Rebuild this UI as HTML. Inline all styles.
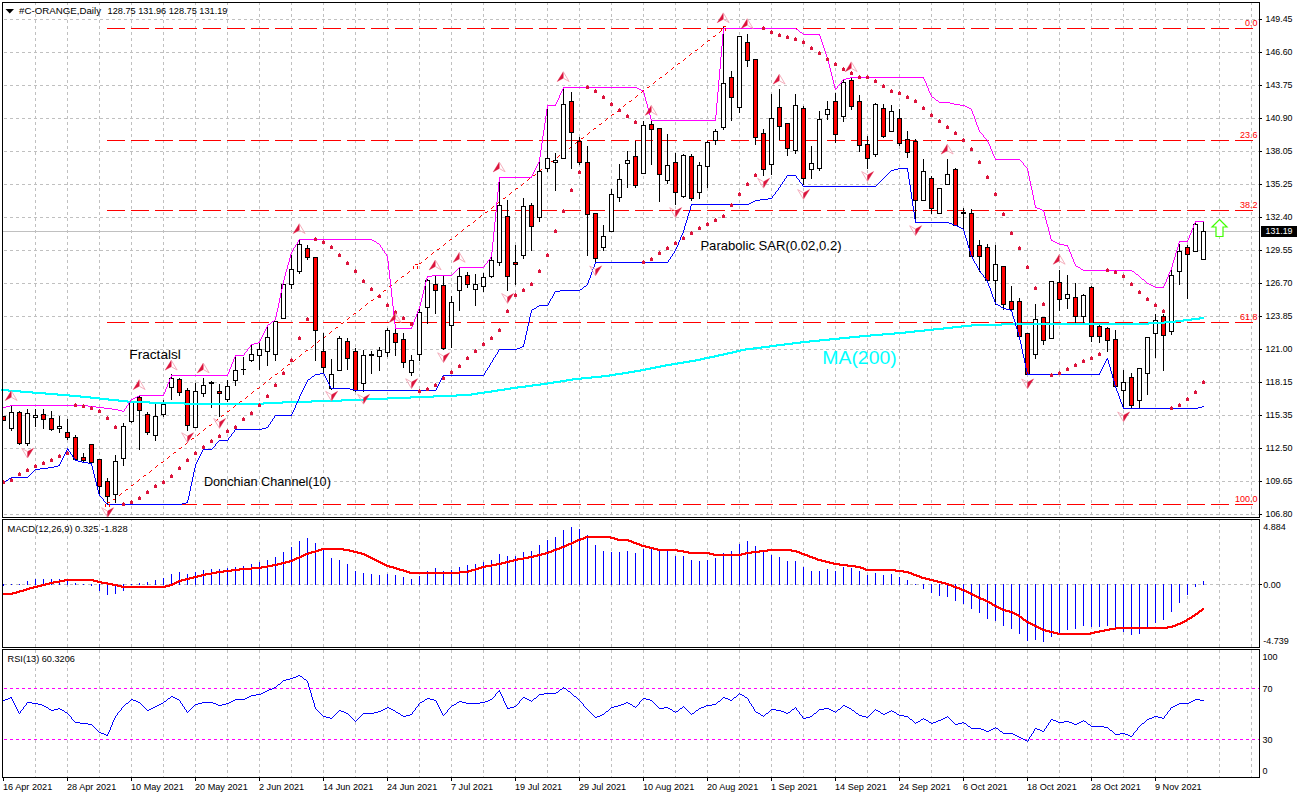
<!DOCTYPE html>
<html><head><meta charset="utf-8"><title>chart</title>
<style>
html,body{margin:0;padding:0;background:#fff;}
body{width:1300px;height:798px;overflow:hidden;}
svg{display:block;font-family:"Liberation Sans",sans-serif;}
</style></head><body>
<svg width="1300" height="798" viewBox="0 0 1300 798">
<g shape-rendering="crispEdges">
<line x1="35.5" y1="3" x2="35.5" y2="517" stroke="#c0c0c0" stroke-width="1" stroke-dasharray="3 3" stroke-dashoffset="1"/>
<line x1="35.5" y1="520" x2="35.5" y2="647" stroke="#c0c0c0" stroke-width="1" stroke-dasharray="3 3" stroke-dashoffset="2"/>
<line x1="35.5" y1="650" x2="35.5" y2="777" stroke="#c0c0c0" stroke-width="1" stroke-dasharray="3 3" stroke-dashoffset="0"/>
<line x1="67.5" y1="3" x2="67.5" y2="517" stroke="#c0c0c0" stroke-width="1" stroke-dasharray="3 3" stroke-dashoffset="1"/>
<line x1="67.5" y1="520" x2="67.5" y2="647" stroke="#c0c0c0" stroke-width="1" stroke-dasharray="3 3" stroke-dashoffset="2"/>
<line x1="67.5" y1="650" x2="67.5" y2="777" stroke="#c0c0c0" stroke-width="1" stroke-dasharray="3 3" stroke-dashoffset="0"/>
<line x1="99.5" y1="3" x2="99.5" y2="517" stroke="#c0c0c0" stroke-width="1" stroke-dasharray="3 3" stroke-dashoffset="1"/>
<line x1="99.5" y1="520" x2="99.5" y2="647" stroke="#c0c0c0" stroke-width="1" stroke-dasharray="3 3" stroke-dashoffset="2"/>
<line x1="99.5" y1="650" x2="99.5" y2="777" stroke="#c0c0c0" stroke-width="1" stroke-dasharray="3 3" stroke-dashoffset="0"/>
<line x1="131.5" y1="3" x2="131.5" y2="517" stroke="#c0c0c0" stroke-width="1" stroke-dasharray="3 3" stroke-dashoffset="1"/>
<line x1="131.5" y1="520" x2="131.5" y2="647" stroke="#c0c0c0" stroke-width="1" stroke-dasharray="3 3" stroke-dashoffset="2"/>
<line x1="131.5" y1="650" x2="131.5" y2="777" stroke="#c0c0c0" stroke-width="1" stroke-dasharray="3 3" stroke-dashoffset="0"/>
<line x1="163.5" y1="3" x2="163.5" y2="517" stroke="#c0c0c0" stroke-width="1" stroke-dasharray="3 3" stroke-dashoffset="1"/>
<line x1="163.5" y1="520" x2="163.5" y2="647" stroke="#c0c0c0" stroke-width="1" stroke-dasharray="3 3" stroke-dashoffset="2"/>
<line x1="163.5" y1="650" x2="163.5" y2="777" stroke="#c0c0c0" stroke-width="1" stroke-dasharray="3 3" stroke-dashoffset="0"/>
<line x1="195.5" y1="3" x2="195.5" y2="517" stroke="#c0c0c0" stroke-width="1" stroke-dasharray="3 3" stroke-dashoffset="1"/>
<line x1="195.5" y1="520" x2="195.5" y2="647" stroke="#c0c0c0" stroke-width="1" stroke-dasharray="3 3" stroke-dashoffset="2"/>
<line x1="195.5" y1="650" x2="195.5" y2="777" stroke="#c0c0c0" stroke-width="1" stroke-dasharray="3 3" stroke-dashoffset="0"/>
<line x1="227.5" y1="3" x2="227.5" y2="517" stroke="#c0c0c0" stroke-width="1" stroke-dasharray="3 3" stroke-dashoffset="1"/>
<line x1="227.5" y1="520" x2="227.5" y2="647" stroke="#c0c0c0" stroke-width="1" stroke-dasharray="3 3" stroke-dashoffset="2"/>
<line x1="227.5" y1="650" x2="227.5" y2="777" stroke="#c0c0c0" stroke-width="1" stroke-dasharray="3 3" stroke-dashoffset="0"/>
<line x1="259.5" y1="3" x2="259.5" y2="517" stroke="#c0c0c0" stroke-width="1" stroke-dasharray="3 3" stroke-dashoffset="1"/>
<line x1="259.5" y1="520" x2="259.5" y2="647" stroke="#c0c0c0" stroke-width="1" stroke-dasharray="3 3" stroke-dashoffset="2"/>
<line x1="259.5" y1="650" x2="259.5" y2="777" stroke="#c0c0c0" stroke-width="1" stroke-dasharray="3 3" stroke-dashoffset="0"/>
<line x1="291.5" y1="3" x2="291.5" y2="517" stroke="#c0c0c0" stroke-width="1" stroke-dasharray="3 3" stroke-dashoffset="1"/>
<line x1="291.5" y1="520" x2="291.5" y2="647" stroke="#c0c0c0" stroke-width="1" stroke-dasharray="3 3" stroke-dashoffset="2"/>
<line x1="291.5" y1="650" x2="291.5" y2="777" stroke="#c0c0c0" stroke-width="1" stroke-dasharray="3 3" stroke-dashoffset="0"/>
<line x1="323.5" y1="3" x2="323.5" y2="517" stroke="#c0c0c0" stroke-width="1" stroke-dasharray="3 3" stroke-dashoffset="1"/>
<line x1="323.5" y1="520" x2="323.5" y2="647" stroke="#c0c0c0" stroke-width="1" stroke-dasharray="3 3" stroke-dashoffset="2"/>
<line x1="323.5" y1="650" x2="323.5" y2="777" stroke="#c0c0c0" stroke-width="1" stroke-dasharray="3 3" stroke-dashoffset="0"/>
<line x1="355.5" y1="3" x2="355.5" y2="517" stroke="#c0c0c0" stroke-width="1" stroke-dasharray="3 3" stroke-dashoffset="1"/>
<line x1="355.5" y1="520" x2="355.5" y2="647" stroke="#c0c0c0" stroke-width="1" stroke-dasharray="3 3" stroke-dashoffset="2"/>
<line x1="355.5" y1="650" x2="355.5" y2="777" stroke="#c0c0c0" stroke-width="1" stroke-dasharray="3 3" stroke-dashoffset="0"/>
<line x1="387.5" y1="3" x2="387.5" y2="517" stroke="#c0c0c0" stroke-width="1" stroke-dasharray="3 3" stroke-dashoffset="1"/>
<line x1="387.5" y1="520" x2="387.5" y2="647" stroke="#c0c0c0" stroke-width="1" stroke-dasharray="3 3" stroke-dashoffset="2"/>
<line x1="387.5" y1="650" x2="387.5" y2="777" stroke="#c0c0c0" stroke-width="1" stroke-dasharray="3 3" stroke-dashoffset="0"/>
<line x1="419.5" y1="3" x2="419.5" y2="517" stroke="#c0c0c0" stroke-width="1" stroke-dasharray="3 3" stroke-dashoffset="1"/>
<line x1="419.5" y1="520" x2="419.5" y2="647" stroke="#c0c0c0" stroke-width="1" stroke-dasharray="3 3" stroke-dashoffset="2"/>
<line x1="419.5" y1="650" x2="419.5" y2="777" stroke="#c0c0c0" stroke-width="1" stroke-dasharray="3 3" stroke-dashoffset="0"/>
<line x1="451.5" y1="3" x2="451.5" y2="517" stroke="#c0c0c0" stroke-width="1" stroke-dasharray="3 3" stroke-dashoffset="1"/>
<line x1="451.5" y1="520" x2="451.5" y2="647" stroke="#c0c0c0" stroke-width="1" stroke-dasharray="3 3" stroke-dashoffset="2"/>
<line x1="451.5" y1="650" x2="451.5" y2="777" stroke="#c0c0c0" stroke-width="1" stroke-dasharray="3 3" stroke-dashoffset="0"/>
<line x1="483.5" y1="3" x2="483.5" y2="517" stroke="#c0c0c0" stroke-width="1" stroke-dasharray="3 3" stroke-dashoffset="1"/>
<line x1="483.5" y1="520" x2="483.5" y2="647" stroke="#c0c0c0" stroke-width="1" stroke-dasharray="3 3" stroke-dashoffset="2"/>
<line x1="483.5" y1="650" x2="483.5" y2="777" stroke="#c0c0c0" stroke-width="1" stroke-dasharray="3 3" stroke-dashoffset="0"/>
<line x1="515.5" y1="3" x2="515.5" y2="517" stroke="#c0c0c0" stroke-width="1" stroke-dasharray="3 3" stroke-dashoffset="1"/>
<line x1="515.5" y1="520" x2="515.5" y2="647" stroke="#c0c0c0" stroke-width="1" stroke-dasharray="3 3" stroke-dashoffset="2"/>
<line x1="515.5" y1="650" x2="515.5" y2="777" stroke="#c0c0c0" stroke-width="1" stroke-dasharray="3 3" stroke-dashoffset="0"/>
<line x1="547.5" y1="3" x2="547.5" y2="517" stroke="#c0c0c0" stroke-width="1" stroke-dasharray="3 3" stroke-dashoffset="1"/>
<line x1="547.5" y1="520" x2="547.5" y2="647" stroke="#c0c0c0" stroke-width="1" stroke-dasharray="3 3" stroke-dashoffset="2"/>
<line x1="547.5" y1="650" x2="547.5" y2="777" stroke="#c0c0c0" stroke-width="1" stroke-dasharray="3 3" stroke-dashoffset="0"/>
<line x1="579.5" y1="3" x2="579.5" y2="517" stroke="#c0c0c0" stroke-width="1" stroke-dasharray="3 3" stroke-dashoffset="1"/>
<line x1="579.5" y1="520" x2="579.5" y2="647" stroke="#c0c0c0" stroke-width="1" stroke-dasharray="3 3" stroke-dashoffset="2"/>
<line x1="579.5" y1="650" x2="579.5" y2="777" stroke="#c0c0c0" stroke-width="1" stroke-dasharray="3 3" stroke-dashoffset="0"/>
<line x1="611.5" y1="3" x2="611.5" y2="517" stroke="#c0c0c0" stroke-width="1" stroke-dasharray="3 3" stroke-dashoffset="1"/>
<line x1="611.5" y1="520" x2="611.5" y2="647" stroke="#c0c0c0" stroke-width="1" stroke-dasharray="3 3" stroke-dashoffset="2"/>
<line x1="611.5" y1="650" x2="611.5" y2="777" stroke="#c0c0c0" stroke-width="1" stroke-dasharray="3 3" stroke-dashoffset="0"/>
<line x1="643.5" y1="3" x2="643.5" y2="517" stroke="#c0c0c0" stroke-width="1" stroke-dasharray="3 3" stroke-dashoffset="1"/>
<line x1="643.5" y1="520" x2="643.5" y2="647" stroke="#c0c0c0" stroke-width="1" stroke-dasharray="3 3" stroke-dashoffset="2"/>
<line x1="643.5" y1="650" x2="643.5" y2="777" stroke="#c0c0c0" stroke-width="1" stroke-dasharray="3 3" stroke-dashoffset="0"/>
<line x1="675.5" y1="3" x2="675.5" y2="517" stroke="#c0c0c0" stroke-width="1" stroke-dasharray="3 3" stroke-dashoffset="1"/>
<line x1="675.5" y1="520" x2="675.5" y2="647" stroke="#c0c0c0" stroke-width="1" stroke-dasharray="3 3" stroke-dashoffset="2"/>
<line x1="675.5" y1="650" x2="675.5" y2="777" stroke="#c0c0c0" stroke-width="1" stroke-dasharray="3 3" stroke-dashoffset="0"/>
<line x1="707.5" y1="3" x2="707.5" y2="517" stroke="#c0c0c0" stroke-width="1" stroke-dasharray="3 3" stroke-dashoffset="1"/>
<line x1="707.5" y1="520" x2="707.5" y2="647" stroke="#c0c0c0" stroke-width="1" stroke-dasharray="3 3" stroke-dashoffset="2"/>
<line x1="707.5" y1="650" x2="707.5" y2="777" stroke="#c0c0c0" stroke-width="1" stroke-dasharray="3 3" stroke-dashoffset="0"/>
<line x1="739.5" y1="3" x2="739.5" y2="517" stroke="#c0c0c0" stroke-width="1" stroke-dasharray="3 3" stroke-dashoffset="1"/>
<line x1="739.5" y1="520" x2="739.5" y2="647" stroke="#c0c0c0" stroke-width="1" stroke-dasharray="3 3" stroke-dashoffset="2"/>
<line x1="739.5" y1="650" x2="739.5" y2="777" stroke="#c0c0c0" stroke-width="1" stroke-dasharray="3 3" stroke-dashoffset="0"/>
<line x1="771.5" y1="3" x2="771.5" y2="517" stroke="#c0c0c0" stroke-width="1" stroke-dasharray="3 3" stroke-dashoffset="1"/>
<line x1="771.5" y1="520" x2="771.5" y2="647" stroke="#c0c0c0" stroke-width="1" stroke-dasharray="3 3" stroke-dashoffset="2"/>
<line x1="771.5" y1="650" x2="771.5" y2="777" stroke="#c0c0c0" stroke-width="1" stroke-dasharray="3 3" stroke-dashoffset="0"/>
<line x1="803.5" y1="3" x2="803.5" y2="517" stroke="#c0c0c0" stroke-width="1" stroke-dasharray="3 3" stroke-dashoffset="1"/>
<line x1="803.5" y1="520" x2="803.5" y2="647" stroke="#c0c0c0" stroke-width="1" stroke-dasharray="3 3" stroke-dashoffset="2"/>
<line x1="803.5" y1="650" x2="803.5" y2="777" stroke="#c0c0c0" stroke-width="1" stroke-dasharray="3 3" stroke-dashoffset="0"/>
<line x1="835.5" y1="3" x2="835.5" y2="517" stroke="#c0c0c0" stroke-width="1" stroke-dasharray="3 3" stroke-dashoffset="1"/>
<line x1="835.5" y1="520" x2="835.5" y2="647" stroke="#c0c0c0" stroke-width="1" stroke-dasharray="3 3" stroke-dashoffset="2"/>
<line x1="835.5" y1="650" x2="835.5" y2="777" stroke="#c0c0c0" stroke-width="1" stroke-dasharray="3 3" stroke-dashoffset="0"/>
<line x1="867.5" y1="3" x2="867.5" y2="517" stroke="#c0c0c0" stroke-width="1" stroke-dasharray="3 3" stroke-dashoffset="1"/>
<line x1="867.5" y1="520" x2="867.5" y2="647" stroke="#c0c0c0" stroke-width="1" stroke-dasharray="3 3" stroke-dashoffset="2"/>
<line x1="867.5" y1="650" x2="867.5" y2="777" stroke="#c0c0c0" stroke-width="1" stroke-dasharray="3 3" stroke-dashoffset="0"/>
<line x1="899.5" y1="3" x2="899.5" y2="517" stroke="#c0c0c0" stroke-width="1" stroke-dasharray="3 3" stroke-dashoffset="1"/>
<line x1="899.5" y1="520" x2="899.5" y2="647" stroke="#c0c0c0" stroke-width="1" stroke-dasharray="3 3" stroke-dashoffset="2"/>
<line x1="899.5" y1="650" x2="899.5" y2="777" stroke="#c0c0c0" stroke-width="1" stroke-dasharray="3 3" stroke-dashoffset="0"/>
<line x1="931.5" y1="3" x2="931.5" y2="517" stroke="#c0c0c0" stroke-width="1" stroke-dasharray="3 3" stroke-dashoffset="1"/>
<line x1="931.5" y1="520" x2="931.5" y2="647" stroke="#c0c0c0" stroke-width="1" stroke-dasharray="3 3" stroke-dashoffset="2"/>
<line x1="931.5" y1="650" x2="931.5" y2="777" stroke="#c0c0c0" stroke-width="1" stroke-dasharray="3 3" stroke-dashoffset="0"/>
<line x1="963.5" y1="3" x2="963.5" y2="517" stroke="#c0c0c0" stroke-width="1" stroke-dasharray="3 3" stroke-dashoffset="1"/>
<line x1="963.5" y1="520" x2="963.5" y2="647" stroke="#c0c0c0" stroke-width="1" stroke-dasharray="3 3" stroke-dashoffset="2"/>
<line x1="963.5" y1="650" x2="963.5" y2="777" stroke="#c0c0c0" stroke-width="1" stroke-dasharray="3 3" stroke-dashoffset="0"/>
<line x1="995.5" y1="3" x2="995.5" y2="517" stroke="#c0c0c0" stroke-width="1" stroke-dasharray="3 3" stroke-dashoffset="1"/>
<line x1="995.5" y1="520" x2="995.5" y2="647" stroke="#c0c0c0" stroke-width="1" stroke-dasharray="3 3" stroke-dashoffset="2"/>
<line x1="995.5" y1="650" x2="995.5" y2="777" stroke="#c0c0c0" stroke-width="1" stroke-dasharray="3 3" stroke-dashoffset="0"/>
<line x1="1027.5" y1="3" x2="1027.5" y2="517" stroke="#c0c0c0" stroke-width="1" stroke-dasharray="3 3" stroke-dashoffset="1"/>
<line x1="1027.5" y1="520" x2="1027.5" y2="647" stroke="#c0c0c0" stroke-width="1" stroke-dasharray="3 3" stroke-dashoffset="2"/>
<line x1="1027.5" y1="650" x2="1027.5" y2="777" stroke="#c0c0c0" stroke-width="1" stroke-dasharray="3 3" stroke-dashoffset="0"/>
<line x1="1059.5" y1="3" x2="1059.5" y2="517" stroke="#c0c0c0" stroke-width="1" stroke-dasharray="3 3" stroke-dashoffset="1"/>
<line x1="1059.5" y1="520" x2="1059.5" y2="647" stroke="#c0c0c0" stroke-width="1" stroke-dasharray="3 3" stroke-dashoffset="2"/>
<line x1="1059.5" y1="650" x2="1059.5" y2="777" stroke="#c0c0c0" stroke-width="1" stroke-dasharray="3 3" stroke-dashoffset="0"/>
<line x1="1091.5" y1="3" x2="1091.5" y2="517" stroke="#c0c0c0" stroke-width="1" stroke-dasharray="3 3" stroke-dashoffset="1"/>
<line x1="1091.5" y1="520" x2="1091.5" y2="647" stroke="#c0c0c0" stroke-width="1" stroke-dasharray="3 3" stroke-dashoffset="2"/>
<line x1="1091.5" y1="650" x2="1091.5" y2="777" stroke="#c0c0c0" stroke-width="1" stroke-dasharray="3 3" stroke-dashoffset="0"/>
<line x1="1123.5" y1="3" x2="1123.5" y2="517" stroke="#c0c0c0" stroke-width="1" stroke-dasharray="3 3" stroke-dashoffset="1"/>
<line x1="1123.5" y1="520" x2="1123.5" y2="647" stroke="#c0c0c0" stroke-width="1" stroke-dasharray="3 3" stroke-dashoffset="2"/>
<line x1="1123.5" y1="650" x2="1123.5" y2="777" stroke="#c0c0c0" stroke-width="1" stroke-dasharray="3 3" stroke-dashoffset="0"/>
<line x1="1155.5" y1="3" x2="1155.5" y2="517" stroke="#c0c0c0" stroke-width="1" stroke-dasharray="3 3" stroke-dashoffset="1"/>
<line x1="1155.5" y1="520" x2="1155.5" y2="647" stroke="#c0c0c0" stroke-width="1" stroke-dasharray="3 3" stroke-dashoffset="2"/>
<line x1="1155.5" y1="650" x2="1155.5" y2="777" stroke="#c0c0c0" stroke-width="1" stroke-dasharray="3 3" stroke-dashoffset="0"/>
<line x1="1187.5" y1="3" x2="1187.5" y2="517" stroke="#c0c0c0" stroke-width="1" stroke-dasharray="3 3" stroke-dashoffset="1"/>
<line x1="1187.5" y1="520" x2="1187.5" y2="647" stroke="#c0c0c0" stroke-width="1" stroke-dasharray="3 3" stroke-dashoffset="2"/>
<line x1="1187.5" y1="650" x2="1187.5" y2="777" stroke="#c0c0c0" stroke-width="1" stroke-dasharray="3 3" stroke-dashoffset="0"/>
<line x1="1219.5" y1="3" x2="1219.5" y2="517" stroke="#c0c0c0" stroke-width="1" stroke-dasharray="3 3" stroke-dashoffset="1"/>
<line x1="1219.5" y1="520" x2="1219.5" y2="647" stroke="#c0c0c0" stroke-width="1" stroke-dasharray="3 3" stroke-dashoffset="2"/>
<line x1="1219.5" y1="650" x2="1219.5" y2="777" stroke="#c0c0c0" stroke-width="1" stroke-dasharray="3 3" stroke-dashoffset="0"/>
<line x1="1251.5" y1="3" x2="1251.5" y2="517" stroke="#c0c0c0" stroke-width="1" stroke-dasharray="3 3" stroke-dashoffset="1"/>
<line x1="1251.5" y1="520" x2="1251.5" y2="647" stroke="#c0c0c0" stroke-width="1" stroke-dasharray="3 3" stroke-dashoffset="2"/>
<line x1="1251.5" y1="650" x2="1251.5" y2="777" stroke="#c0c0c0" stroke-width="1" stroke-dasharray="3 3" stroke-dashoffset="0"/>
<line x1="3" y1="19.5" x2="1259" y2="19.5" stroke="#c0c0c0" stroke-width="1" stroke-dasharray="3 3" stroke-dashoffset="5"/>
<line x1="3" y1="52.5" x2="1259" y2="52.5" stroke="#c0c0c0" stroke-width="1" stroke-dasharray="3 3" stroke-dashoffset="5"/>
<line x1="3" y1="85.5" x2="1259" y2="85.5" stroke="#c0c0c0" stroke-width="1" stroke-dasharray="3 3" stroke-dashoffset="5"/>
<line x1="3" y1="118.5" x2="1259" y2="118.5" stroke="#c0c0c0" stroke-width="1" stroke-dasharray="3 3" stroke-dashoffset="5"/>
<line x1="3" y1="151.5" x2="1259" y2="151.5" stroke="#c0c0c0" stroke-width="1" stroke-dasharray="3 3" stroke-dashoffset="5"/>
<line x1="3" y1="184.5" x2="1259" y2="184.5" stroke="#c0c0c0" stroke-width="1" stroke-dasharray="3 3" stroke-dashoffset="5"/>
<line x1="3" y1="217.5" x2="1259" y2="217.5" stroke="#c0c0c0" stroke-width="1" stroke-dasharray="3 3" stroke-dashoffset="5"/>
<line x1="3" y1="250.5" x2="1259" y2="250.5" stroke="#c0c0c0" stroke-width="1" stroke-dasharray="3 3" stroke-dashoffset="5"/>
<line x1="3" y1="283.5" x2="1259" y2="283.5" stroke="#c0c0c0" stroke-width="1" stroke-dasharray="3 3" stroke-dashoffset="5"/>
<line x1="3" y1="316.5" x2="1259" y2="316.5" stroke="#c0c0c0" stroke-width="1" stroke-dasharray="3 3" stroke-dashoffset="5"/>
<line x1="3" y1="349.5" x2="1259" y2="349.5" stroke="#c0c0c0" stroke-width="1" stroke-dasharray="3 3" stroke-dashoffset="5"/>
<line x1="3" y1="382.5" x2="1259" y2="382.5" stroke="#c0c0c0" stroke-width="1" stroke-dasharray="3 3" stroke-dashoffset="5"/>
<line x1="3" y1="415.5" x2="1259" y2="415.5" stroke="#c0c0c0" stroke-width="1" stroke-dasharray="3 3" stroke-dashoffset="5"/>
<line x1="3" y1="448.5" x2="1259" y2="448.5" stroke="#c0c0c0" stroke-width="1" stroke-dasharray="3 3" stroke-dashoffset="5"/>
<line x1="3" y1="481.5" x2="1259" y2="481.5" stroke="#c0c0c0" stroke-width="1" stroke-dasharray="3 3" stroke-dashoffset="5"/>
<line x1="3" y1="514.5" x2="1259" y2="514.5" stroke="#c0c0c0" stroke-width="1" stroke-dasharray="3 3" stroke-dashoffset="5"/>
<line x1="3" y1="584.5" x2="1259" y2="584.5" stroke="#c0c0c0" stroke-width="1" stroke-dasharray="3 3" stroke-dashoffset="5"/>
<rect x="3" y="231" width="1256" height="1" fill="#c0c0c0"/>
<line x1="107" y1="28.5" x2="1258" y2="28.5" stroke="#ff0000" stroke-width="1" stroke-dasharray="18 6"/>
<line x1="107" y1="140.5" x2="1258" y2="140.5" stroke="#ff0000" stroke-width="1" stroke-dasharray="18 6"/>
<line x1="107" y1="210.5" x2="1258" y2="210.5" stroke="#ff0000" stroke-width="1" stroke-dasharray="18 6"/>
<line x1="107" y1="322.5" x2="1258" y2="322.5" stroke="#ff0000" stroke-width="1" stroke-dasharray="18 6"/>
<line x1="107" y1="504.5" x2="1258" y2="504.5" stroke="#ff0000" stroke-width="1" stroke-dasharray="18 6"/>
</g>
<path d="M113,499h1v1h-1zM114,499h1v1h-1zM115,498h1v1h-1zM119,495h1v1h-1zM120,494h1v1h-1zM121,493h1v1h-1zM125,490h1v1h-1zM126,489h1v1h-1zM127,489h1v1h-1zM131,485h1v1h-1zM132,485h1v1h-1zM133,484h1v1h-1zM137,481h1v1h-1zM138,480h1v1h-1zM139,479h1v1h-1zM143,476h1v1h-1zM144,475h1v1h-1zM145,475h1v1h-1zM149,472h1v1h-1zM150,471h1v1h-1zM151,470h1v1h-1zM155,467h1v1h-1zM156,466h1v1h-1zM157,465h1v1h-1zM161,462h1v1h-1zM162,462h1v1h-1zM163,461h1v1h-1zM167,458h1v1h-1zM168,457h1v1h-1zM169,456h1v1h-1zM173,453h1v1h-1zM174,452h1v1h-1zM175,452h1v1h-1zM179,448h1v1h-1zM180,448h1v1h-1zM181,447h1v1h-1zM185,444h1v1h-1zM186,443h1v1h-1zM187,442h1v1h-1zM191,439h1v1h-1zM192,438h1v1h-1zM193,438h1v1h-1zM197,435h1v1h-1zM198,434h1v1h-1zM199,433h1v1h-1zM203,430h1v1h-1zM204,429h1v1h-1zM205,428h1v1h-1zM209,425h1v1h-1zM210,425h1v1h-1zM211,424h1v1h-1zM215,421h1v1h-1zM216,420h1v1h-1zM217,419h1v1h-1zM221,416h1v1h-1zM222,415h1v1h-1zM223,415h1v1h-1zM227,411h1v1h-1zM228,411h1v1h-1zM229,410h1v1h-1zM233,407h1v1h-1zM234,406h1v1h-1zM235,405h1v1h-1zM239,402h1v1h-1zM240,401h1v1h-1zM241,401h1v1h-1zM245,398h1v1h-1zM246,397h1v1h-1zM247,396h1v1h-1zM251,393h1v1h-1zM252,392h1v1h-1zM253,391h1v1h-1zM257,388h1v1h-1zM258,388h1v1h-1zM259,387h1v1h-1zM263,384h1v1h-1zM264,383h1v1h-1zM265,382h1v1h-1zM269,379h1v1h-1zM270,378h1v1h-1zM271,377h1v1h-1zM275,374h1v1h-1zM276,374h1v1h-1zM277,373h1v1h-1zM281,370h1v1h-1zM282,369h1v1h-1zM283,368h1v1h-1zM287,365h1v1h-1zM288,364h1v1h-1zM289,364h1v1h-1zM293,361h1v1h-1zM294,360h1v1h-1zM295,359h1v1h-1zM299,356h1v1h-1zM300,355h1v1h-1zM301,354h1v1h-1zM305,351h1v1h-1zM306,350h1v1h-1zM307,350h1v1h-1zM311,347h1v1h-1zM312,346h1v1h-1zM313,345h1v1h-1zM317,342h1v1h-1zM318,341h1v1h-1zM319,340h1v1h-1zM323,337h1v1h-1zM324,337h1v1h-1zM325,336h1v1h-1zM329,333h1v1h-1zM330,332h1v1h-1zM331,331h1v1h-1zM335,328h1v1h-1zM336,327h1v1h-1zM337,327h1v1h-1zM341,323h1v1h-1zM342,323h1v1h-1zM343,322h1v1h-1zM347,319h1v1h-1zM348,318h1v1h-1zM349,317h1v1h-1zM353,314h1v1h-1zM354,313h1v1h-1zM355,313h1v1h-1zM359,310h1v1h-1zM360,309h1v1h-1zM361,308h1v1h-1zM365,305h1v1h-1zM366,304h1v1h-1zM367,303h1v1h-1zM371,300h1v1h-1zM372,300h1v1h-1zM373,299h1v1h-1zM377,296h1v1h-1zM378,295h1v1h-1zM379,294h1v1h-1zM383,291h1v1h-1zM384,290h1v1h-1zM385,290h1v1h-1zM389,286h1v1h-1zM390,286h1v1h-1zM391,285h1v1h-1zM395,282h1v1h-1zM396,281h1v1h-1zM397,280h1v1h-1zM401,277h1v1h-1zM402,276h1v1h-1zM403,276h1v1h-1zM407,273h1v1h-1zM408,272h1v1h-1zM409,271h1v1h-1zM419,263h1v1h-1zM420,263h1v1h-1zM421,262h1v1h-1zM425,259h1v1h-1zM426,258h1v1h-1zM427,257h1v1h-1zM431,254h1v1h-1zM432,253h1v1h-1zM433,252h1v1h-1zM437,249h1v1h-1zM438,249h1v1h-1zM439,248h1v1h-1zM443,245h1v1h-1zM444,244h1v1h-1zM445,243h1v1h-1zM449,240h1v1h-1zM450,239h1v1h-1zM451,239h1v1h-1zM455,236h1v1h-1zM456,235h1v1h-1zM457,234h1v1h-1zM461,231h1v1h-1zM462,230h1v1h-1zM463,229h1v1h-1zM467,226h1v1h-1zM468,225h1v1h-1zM469,225h1v1h-1zM473,222h1v1h-1zM474,221h1v1h-1zM475,220h1v1h-1zM479,217h1v1h-1zM480,216h1v1h-1zM481,215h1v1h-1zM485,212h1v1h-1zM486,212h1v1h-1zM487,211h1v1h-1zM491,208h1v1h-1zM492,207h1v1h-1zM493,206h1v1h-1zM497,203h1v1h-1zM498,202h1v1h-1zM499,202h1v1h-1zM503,198h1v1h-1zM504,198h1v1h-1zM505,197h1v1h-1zM509,194h1v1h-1zM510,193h1v1h-1zM511,192h1v1h-1zM515,189h1v1h-1zM516,188h1v1h-1zM517,188h1v1h-1zM521,185h1v1h-1zM522,184h1v1h-1zM523,183h1v1h-1zM527,180h1v1h-1zM528,179h1v1h-1zM529,178h1v1h-1zM533,175h1v1h-1zM534,175h1v1h-1zM535,174h1v1h-1zM539,171h1v1h-1zM540,170h1v1h-1zM541,169h1v1h-1zM545,166h1v1h-1zM546,165h1v1h-1zM547,165h1v1h-1zM551,161h1v1h-1zM552,161h1v1h-1zM553,160h1v1h-1zM557,157h1v1h-1zM558,156h1v1h-1zM559,155h1v1h-1zM563,152h1v1h-1zM564,151h1v1h-1zM565,151h1v1h-1zM569,148h1v1h-1zM570,147h1v1h-1zM571,146h1v1h-1zM575,143h1v1h-1zM576,142h1v1h-1zM577,141h1v1h-1zM581,138h1v1h-1zM582,138h1v1h-1zM583,137h1v1h-1zM587,134h1v1h-1zM588,133h1v1h-1zM589,132h1v1h-1zM593,129h1v1h-1zM594,128h1v1h-1zM595,128h1v1h-1zM599,124h1v1h-1zM600,124h1v1h-1zM601,123h1v1h-1zM605,120h1v1h-1zM606,119h1v1h-1zM607,118h1v1h-1zM611,115h1v1h-1zM612,114h1v1h-1zM613,114h1v1h-1zM617,111h1v1h-1zM618,110h1v1h-1zM619,109h1v1h-1zM623,106h1v1h-1zM624,105h1v1h-1zM625,104h1v1h-1zM629,101h1v1h-1zM630,101h1v1h-1zM631,100h1v1h-1zM635,97h1v1h-1zM636,96h1v1h-1zM637,95h1v1h-1zM641,92h1v1h-1zM642,91h1v1h-1zM643,90h1v1h-1zM647,87h1v1h-1zM648,87h1v1h-1zM649,86h1v1h-1zM653,83h1v1h-1zM654,82h1v1h-1zM655,81h1v1h-1zM659,78h1v1h-1zM660,77h1v1h-1zM661,77h1v1h-1zM665,74h1v1h-1zM666,73h1v1h-1zM667,72h1v1h-1zM671,69h1v1h-1zM672,68h1v1h-1zM673,67h1v1h-1zM677,64h1v1h-1zM678,63h1v1h-1zM679,63h1v1h-1zM683,60h1v1h-1zM684,59h1v1h-1zM685,58h1v1h-1zM689,55h1v1h-1zM690,54h1v1h-1zM691,53h1v1h-1zM695,50h1v1h-1zM696,50h1v1h-1zM697,49h1v1h-1zM701,46h1v1h-1zM702,45h1v1h-1zM703,44h1v1h-1zM707,41h1v1h-1zM708,40h1v1h-1zM709,40h1v1h-1zM713,36h1v1h-1zM714,36h1v1h-1zM715,35h1v1h-1zM719,32h1v1h-1zM720,31h1v1h-1z" fill="#ff0000" shape-rendering="crispEdges"/>
<g shape-rendering="crispEdges">
<rect x="3" y="416" width="3" height="5" fill="#000"/>
<rect x="3" y="417" width="2" height="3" fill="#ff0000"/>
<rect x="11" y="406" width="1" height="25" fill="#000"/>
<rect x="9" y="412" width="5" height="17" fill="#000"/>
<rect x="10" y="413" width="3" height="15" fill="#fff"/>
<rect x="19" y="411" width="1" height="34" fill="#000"/>
<rect x="17" y="412" width="5" height="32" fill="#000"/>
<rect x="18" y="413" width="3" height="30" fill="#ff0000"/>
<rect x="27" y="409" width="1" height="37" fill="#000"/>
<rect x="25" y="413" width="5" height="31" fill="#000"/>
<rect x="26" y="414" width="3" height="29" fill="#fff"/>
<rect x="35" y="409" width="1" height="18" fill="#000"/>
<rect x="33" y="415" width="5" height="3" fill="#000"/>
<rect x="34" y="416" width="3" height="1" fill="#fff"/>
<rect x="43" y="409" width="1" height="20" fill="#000"/>
<rect x="41" y="414" width="5" height="6" fill="#000"/>
<rect x="42" y="415" width="3" height="4" fill="#ff0000"/>
<rect x="51" y="411" width="1" height="20" fill="#000"/>
<rect x="49" y="418" width="5" height="12" fill="#000"/>
<rect x="50" y="419" width="3" height="10" fill="#ff0000"/>
<rect x="59" y="416" width="1" height="17" fill="#000"/>
<rect x="57" y="426" width="5" height="3" fill="#000"/>
<rect x="58" y="427" width="3" height="1" fill="#fff"/>
<rect x="67" y="419" width="1" height="21" fill="#000"/>
<rect x="65" y="432" width="5" height="6" fill="#000"/>
<rect x="66" y="433" width="3" height="4" fill="#ff0000"/>
<rect x="75" y="435" width="1" height="25" fill="#000"/>
<rect x="73" y="437" width="5" height="23" fill="#000"/>
<rect x="74" y="438" width="3" height="21" fill="#ff0000"/>
<rect x="83" y="453" width="1" height="10" fill="#000"/>
<rect x="81" y="457" width="5" height="4" fill="#000"/>
<rect x="82" y="458" width="3" height="2" fill="#ff0000"/>
<rect x="91" y="444" width="1" height="19" fill="#000"/>
<rect x="89" y="444" width="5" height="19" fill="#000"/>
<rect x="90" y="445" width="3" height="17" fill="#ff0000"/>
<rect x="99" y="459" width="1" height="37" fill="#000"/>
<rect x="97" y="459" width="5" height="28" fill="#000"/>
<rect x="98" y="460" width="3" height="26" fill="#ff0000"/>
<rect x="107" y="478" width="1" height="27" fill="#000"/>
<rect x="105" y="481" width="5" height="16" fill="#000"/>
<rect x="106" y="482" width="3" height="14" fill="#ff0000"/>
<rect x="115" y="455" width="1" height="48" fill="#000"/>
<rect x="113" y="461" width="5" height="34" fill="#000"/>
<rect x="114" y="462" width="3" height="32" fill="#fff"/>
<rect x="123" y="423" width="1" height="43" fill="#000"/>
<rect x="121" y="426" width="5" height="33" fill="#000"/>
<rect x="122" y="427" width="3" height="31" fill="#fff"/>
<rect x="131" y="402" width="1" height="21" fill="#000"/>
<rect x="129" y="402" width="5" height="20" fill="#000"/>
<rect x="130" y="403" width="3" height="18" fill="#fff"/>
<rect x="139" y="396" width="1" height="54" fill="#000"/>
<rect x="137" y="397" width="5" height="14" fill="#000"/>
<rect x="138" y="398" width="3" height="12" fill="#ff0000"/>
<rect x="147" y="412" width="1" height="23" fill="#000"/>
<rect x="145" y="414" width="5" height="19" fill="#000"/>
<rect x="146" y="415" width="3" height="17" fill="#ff0000"/>
<rect x="155" y="404" width="1" height="37" fill="#000"/>
<rect x="153" y="416" width="5" height="20" fill="#000"/>
<rect x="154" y="417" width="3" height="18" fill="#fff"/>
<rect x="163" y="400" width="1" height="17" fill="#000"/>
<rect x="161" y="404" width="5" height="11" fill="#000"/>
<rect x="162" y="405" width="3" height="9" fill="#fff"/>
<rect x="171" y="374" width="1" height="26" fill="#000"/>
<rect x="169" y="378" width="5" height="10" fill="#000"/>
<rect x="170" y="379" width="3" height="8" fill="#fff"/>
<rect x="179" y="378" width="1" height="18" fill="#000"/>
<rect x="177" y="379" width="5" height="14" fill="#000"/>
<rect x="178" y="380" width="3" height="12" fill="#ff0000"/>
<rect x="187" y="388" width="1" height="43" fill="#000"/>
<rect x="185" y="390" width="5" height="36" fill="#000"/>
<rect x="186" y="391" width="3" height="34" fill="#ff0000"/>
<rect x="195" y="383" width="1" height="45" fill="#000"/>
<rect x="193" y="391" width="5" height="37" fill="#000"/>
<rect x="194" y="392" width="3" height="35" fill="#fff"/>
<rect x="203" y="378" width="1" height="19" fill="#000"/>
<rect x="201" y="385" width="5" height="9" fill="#000"/>
<rect x="202" y="386" width="3" height="7" fill="#fff"/>
<rect x="211" y="381" width="1" height="27" fill="#000"/>
<rect x="209" y="382" width="5" height="2" fill="#000"/>
<rect x="219" y="384" width="1" height="33" fill="#000"/>
<rect x="217" y="391" width="5" height="3" fill="#000"/>
<rect x="218" y="392" width="3" height="1" fill="#ff0000"/>
<rect x="227" y="380" width="1" height="22" fill="#000"/>
<rect x="225" y="386" width="5" height="14" fill="#000"/>
<rect x="226" y="387" width="3" height="12" fill="#fff"/>
<rect x="235" y="356" width="1" height="30" fill="#000"/>
<rect x="233" y="370" width="5" height="11" fill="#000"/>
<rect x="234" y="371" width="3" height="9" fill="#fff"/>
<rect x="243" y="357" width="1" height="18" fill="#000"/>
<rect x="241" y="369" width="5" height="1" fill="#000"/>
<rect x="251" y="344" width="1" height="18" fill="#000"/>
<rect x="249" y="354" width="5" height="7" fill="#000"/>
<rect x="250" y="355" width="3" height="5" fill="#fff"/>
<rect x="259" y="342" width="1" height="28" fill="#000"/>
<rect x="257" y="349" width="5" height="7" fill="#000"/>
<rect x="258" y="350" width="3" height="5" fill="#fff"/>
<rect x="267" y="327" width="1" height="39" fill="#000"/>
<rect x="265" y="337" width="5" height="15" fill="#000"/>
<rect x="266" y="338" width="3" height="13" fill="#fff"/>
<rect x="275" y="321" width="1" height="40" fill="#000"/>
<rect x="273" y="321" width="5" height="34" fill="#000"/>
<rect x="274" y="322" width="3" height="32" fill="#fff"/>
<rect x="283" y="282" width="1" height="37" fill="#000"/>
<rect x="281" y="284" width="5" height="35" fill="#000"/>
<rect x="282" y="285" width="3" height="33" fill="#fff"/>
<rect x="291" y="255" width="1" height="34" fill="#000"/>
<rect x="289" y="269" width="5" height="16" fill="#000"/>
<rect x="290" y="270" width="3" height="14" fill="#fff"/>
<rect x="299" y="240" width="1" height="34" fill="#000"/>
<rect x="297" y="244" width="5" height="28" fill="#000"/>
<rect x="298" y="245" width="3" height="26" fill="#fff"/>
<rect x="307" y="245" width="1" height="15" fill="#000"/>
<rect x="305" y="248" width="5" height="10" fill="#000"/>
<rect x="306" y="249" width="3" height="8" fill="#ff0000"/>
<rect x="315" y="257" width="1" height="104" fill="#000"/>
<rect x="313" y="257" width="5" height="74" fill="#000"/>
<rect x="314" y="258" width="3" height="72" fill="#ff0000"/>
<rect x="323" y="333" width="1" height="40" fill="#000"/>
<rect x="321" y="351" width="5" height="17" fill="#000"/>
<rect x="322" y="352" width="3" height="15" fill="#ff0000"/>
<rect x="331" y="359" width="1" height="31" fill="#000"/>
<rect x="329" y="374" width="5" height="15" fill="#000"/>
<rect x="330" y="375" width="3" height="13" fill="#fff"/>
<rect x="339" y="336" width="1" height="35" fill="#000"/>
<rect x="337" y="338" width="5" height="33" fill="#000"/>
<rect x="338" y="339" width="3" height="31" fill="#fff"/>
<rect x="347" y="338" width="1" height="32" fill="#000"/>
<rect x="345" y="341" width="5" height="18" fill="#000"/>
<rect x="346" y="342" width="3" height="16" fill="#ff0000"/>
<rect x="355" y="348" width="1" height="44" fill="#000"/>
<rect x="353" y="351" width="5" height="40" fill="#000"/>
<rect x="354" y="352" width="3" height="38" fill="#ff0000"/>
<rect x="363" y="350" width="1" height="42" fill="#000"/>
<rect x="361" y="355" width="5" height="29" fill="#000"/>
<rect x="362" y="356" width="3" height="27" fill="#fff"/>
<rect x="371" y="351" width="1" height="23" fill="#000"/>
<rect x="369" y="354" width="5" height="2" fill="#000"/>
<rect x="379" y="347" width="1" height="24" fill="#000"/>
<rect x="377" y="350" width="5" height="7" fill="#000"/>
<rect x="378" y="351" width="3" height="5" fill="#fff"/>
<rect x="387" y="328" width="1" height="29" fill="#000"/>
<rect x="385" y="330" width="5" height="23" fill="#000"/>
<rect x="386" y="331" width="3" height="21" fill="#fff"/>
<rect x="395" y="328" width="1" height="28" fill="#000"/>
<rect x="393" y="333" width="5" height="10" fill="#000"/>
<rect x="394" y="334" width="3" height="8" fill="#ff0000"/>
<rect x="403" y="333" width="1" height="35" fill="#000"/>
<rect x="401" y="339" width="5" height="24" fill="#000"/>
<rect x="402" y="340" width="3" height="22" fill="#ff0000"/>
<rect x="411" y="355" width="1" height="21" fill="#000"/>
<rect x="409" y="360" width="5" height="13" fill="#000"/>
<rect x="410" y="361" width="3" height="11" fill="#fff"/>
<rect x="419" y="308" width="1" height="53" fill="#000"/>
<rect x="417" y="312" width="5" height="43" fill="#000"/>
<rect x="418" y="313" width="3" height="41" fill="#fff"/>
<rect x="427" y="279" width="1" height="45" fill="#000"/>
<rect x="425" y="280" width="5" height="28" fill="#000"/>
<rect x="426" y="281" width="3" height="26" fill="#fff"/>
<rect x="435" y="276" width="1" height="38" fill="#000"/>
<rect x="433" y="284" width="5" height="7" fill="#000"/>
<rect x="434" y="285" width="3" height="5" fill="#ff0000"/>
<rect x="443" y="276" width="1" height="74" fill="#000"/>
<rect x="441" y="285" width="5" height="64" fill="#000"/>
<rect x="442" y="286" width="3" height="62" fill="#ff0000"/>
<rect x="451" y="296" width="1" height="52" fill="#000"/>
<rect x="449" y="302" width="5" height="24" fill="#000"/>
<rect x="450" y="303" width="3" height="22" fill="#fff"/>
<rect x="459" y="268" width="1" height="43" fill="#000"/>
<rect x="457" y="276" width="5" height="15" fill="#000"/>
<rect x="458" y="277" width="3" height="13" fill="#fff"/>
<rect x="467" y="272" width="1" height="16" fill="#000"/>
<rect x="465" y="275" width="5" height="10" fill="#000"/>
<rect x="466" y="276" width="3" height="8" fill="#ff0000"/>
<rect x="475" y="274" width="1" height="32" fill="#000"/>
<rect x="473" y="284" width="5" height="6" fill="#000"/>
<rect x="474" y="285" width="3" height="4" fill="#fff"/>
<rect x="483" y="273" width="1" height="19" fill="#000"/>
<rect x="481" y="277" width="5" height="10" fill="#000"/>
<rect x="482" y="278" width="3" height="8" fill="#fff"/>
<rect x="491" y="257" width="1" height="21" fill="#000"/>
<rect x="489" y="260" width="5" height="17" fill="#000"/>
<rect x="490" y="261" width="3" height="15" fill="#fff"/>
<rect x="499" y="181" width="1" height="85" fill="#000"/>
<rect x="497" y="205" width="5" height="58" fill="#000"/>
<rect x="498" y="206" width="3" height="56" fill="#fff"/>
<rect x="507" y="200" width="1" height="91" fill="#000"/>
<rect x="505" y="216" width="5" height="61" fill="#000"/>
<rect x="506" y="217" width="3" height="59" fill="#ff0000"/>
<rect x="515" y="245" width="1" height="40" fill="#000"/>
<rect x="513" y="262" width="5" height="3" fill="#000"/>
<rect x="514" y="263" width="3" height="1" fill="#ff0000"/>
<rect x="523" y="198" width="1" height="61" fill="#000"/>
<rect x="521" y="206" width="5" height="50" fill="#000"/>
<rect x="522" y="207" width="3" height="48" fill="#fff"/>
<rect x="531" y="203" width="1" height="48" fill="#000"/>
<rect x="529" y="205" width="5" height="22" fill="#000"/>
<rect x="530" y="206" width="3" height="20" fill="#ff0000"/>
<rect x="539" y="160" width="1" height="62" fill="#000"/>
<rect x="537" y="171" width="5" height="47" fill="#000"/>
<rect x="538" y="172" width="3" height="45" fill="#fff"/>
<rect x="547" y="108" width="1" height="64" fill="#000"/>
<rect x="545" y="158" width="5" height="11" fill="#000"/>
<rect x="546" y="159" width="3" height="9" fill="#fff"/>
<rect x="555" y="153" width="1" height="38" fill="#000"/>
<rect x="553" y="160" width="5" height="3" fill="#000"/>
<rect x="554" y="161" width="3" height="1" fill="#fff"/>
<rect x="563" y="88" width="1" height="71" fill="#000"/>
<rect x="561" y="104" width="5" height="55" fill="#000"/>
<rect x="562" y="105" width="3" height="53" fill="#fff"/>
<rect x="571" y="92" width="1" height="77" fill="#000"/>
<rect x="569" y="101" width="5" height="32" fill="#000"/>
<rect x="570" y="102" width="3" height="30" fill="#ff0000"/>
<rect x="579" y="137" width="1" height="28" fill="#000"/>
<rect x="577" y="141" width="5" height="22" fill="#000"/>
<rect x="578" y="142" width="3" height="20" fill="#ff0000"/>
<rect x="587" y="146" width="1" height="110" fill="#000"/>
<rect x="585" y="162" width="5" height="53" fill="#000"/>
<rect x="586" y="163" width="3" height="51" fill="#ff0000"/>
<rect x="595" y="213" width="1" height="50" fill="#000"/>
<rect x="593" y="213" width="5" height="46" fill="#000"/>
<rect x="594" y="214" width="3" height="44" fill="#ff0000"/>
<rect x="603" y="225" width="1" height="26" fill="#000"/>
<rect x="601" y="236" width="5" height="12" fill="#000"/>
<rect x="602" y="237" width="3" height="10" fill="#fff"/>
<rect x="611" y="189" width="1" height="43" fill="#000"/>
<rect x="609" y="194" width="5" height="38" fill="#000"/>
<rect x="610" y="195" width="3" height="36" fill="#fff"/>
<rect x="619" y="164" width="1" height="38" fill="#000"/>
<rect x="617" y="179" width="5" height="19" fill="#000"/>
<rect x="618" y="180" width="3" height="17" fill="#fff"/>
<rect x="627" y="151" width="1" height="37" fill="#000"/>
<rect x="625" y="160" width="5" height="4" fill="#000"/>
<rect x="626" y="161" width="3" height="2" fill="#fff"/>
<rect x="635" y="141" width="1" height="47" fill="#000"/>
<rect x="633" y="156" width="5" height="30" fill="#000"/>
<rect x="634" y="157" width="3" height="28" fill="#ff0000"/>
<rect x="643" y="121" width="1" height="53" fill="#000"/>
<rect x="641" y="125" width="5" height="49" fill="#000"/>
<rect x="642" y="126" width="3" height="47" fill="#fff"/>
<rect x="651" y="121" width="1" height="44" fill="#000"/>
<rect x="649" y="124" width="5" height="6" fill="#000"/>
<rect x="650" y="125" width="3" height="4" fill="#ff0000"/>
<rect x="659" y="128" width="1" height="74" fill="#000"/>
<rect x="657" y="128" width="5" height="47" fill="#000"/>
<rect x="658" y="129" width="3" height="45" fill="#ff0000"/>
<rect x="667" y="134" width="1" height="50" fill="#000"/>
<rect x="665" y="165" width="5" height="16" fill="#000"/>
<rect x="666" y="166" width="3" height="14" fill="#fff"/>
<rect x="675" y="153" width="1" height="52" fill="#000"/>
<rect x="673" y="162" width="5" height="31" fill="#000"/>
<rect x="674" y="163" width="3" height="29" fill="#ff0000"/>
<rect x="683" y="154" width="1" height="44" fill="#000"/>
<rect x="681" y="155" width="5" height="42" fill="#000"/>
<rect x="682" y="156" width="3" height="40" fill="#fff"/>
<rect x="691" y="154" width="1" height="47" fill="#000"/>
<rect x="689" y="156" width="5" height="43" fill="#000"/>
<rect x="690" y="157" width="3" height="41" fill="#ff0000"/>
<rect x="699" y="162" width="1" height="37" fill="#000"/>
<rect x="697" y="165" width="5" height="28" fill="#000"/>
<rect x="698" y="166" width="3" height="26" fill="#fff"/>
<rect x="707" y="141" width="1" height="47" fill="#000"/>
<rect x="705" y="142" width="5" height="25" fill="#000"/>
<rect x="706" y="143" width="3" height="23" fill="#fff"/>
<rect x="715" y="129" width="1" height="16" fill="#000"/>
<rect x="713" y="131" width="5" height="10" fill="#000"/>
<rect x="714" y="132" width="3" height="8" fill="#fff"/>
<rect x="723" y="27" width="1" height="103" fill="#000"/>
<rect x="721" y="83" width="5" height="45" fill="#000"/>
<rect x="722" y="84" width="3" height="43" fill="#fff"/>
<rect x="731" y="71" width="1" height="50" fill="#000"/>
<rect x="729" y="77" width="5" height="21" fill="#000"/>
<rect x="730" y="78" width="3" height="19" fill="#ff0000"/>
<rect x="739" y="36" width="1" height="77" fill="#000"/>
<rect x="737" y="36" width="5" height="72" fill="#000"/>
<rect x="738" y="37" width="3" height="70" fill="#fff"/>
<rect x="747" y="34" width="1" height="33" fill="#000"/>
<rect x="745" y="42" width="5" height="19" fill="#000"/>
<rect x="746" y="43" width="3" height="17" fill="#ff0000"/>
<rect x="755" y="59" width="1" height="86" fill="#000"/>
<rect x="753" y="59" width="5" height="79" fill="#000"/>
<rect x="754" y="60" width="3" height="77" fill="#ff0000"/>
<rect x="763" y="129" width="1" height="47" fill="#000"/>
<rect x="761" y="133" width="5" height="37" fill="#000"/>
<rect x="762" y="134" width="3" height="35" fill="#ff0000"/>
<rect x="771" y="94" width="1" height="81" fill="#000"/>
<rect x="769" y="118" width="5" height="47" fill="#000"/>
<rect x="770" y="119" width="3" height="45" fill="#fff"/>
<rect x="779" y="89" width="1" height="51" fill="#000"/>
<rect x="777" y="107" width="5" height="20" fill="#000"/>
<rect x="778" y="108" width="3" height="18" fill="#ff0000"/>
<rect x="787" y="123" width="1" height="33" fill="#000"/>
<rect x="785" y="123" width="5" height="26" fill="#000"/>
<rect x="786" y="124" width="3" height="24" fill="#ff0000"/>
<rect x="795" y="94" width="1" height="60" fill="#000"/>
<rect x="793" y="105" width="5" height="46" fill="#000"/>
<rect x="794" y="106" width="3" height="44" fill="#fff"/>
<rect x="803" y="106" width="1" height="79" fill="#000"/>
<rect x="801" y="108" width="5" height="71" fill="#000"/>
<rect x="802" y="109" width="3" height="69" fill="#ff0000"/>
<rect x="811" y="146" width="1" height="33" fill="#000"/>
<rect x="809" y="163" width="5" height="7" fill="#000"/>
<rect x="810" y="164" width="3" height="5" fill="#fff"/>
<rect x="819" y="111" width="1" height="60" fill="#000"/>
<rect x="817" y="119" width="5" height="50" fill="#000"/>
<rect x="818" y="120" width="3" height="48" fill="#fff"/>
<rect x="827" y="101" width="1" height="19" fill="#000"/>
<rect x="825" y="109" width="5" height="6" fill="#000"/>
<rect x="826" y="110" width="3" height="4" fill="#fff"/>
<rect x="835" y="93" width="1" height="50" fill="#000"/>
<rect x="833" y="101" width="5" height="34" fill="#000"/>
<rect x="834" y="102" width="3" height="32" fill="#ff0000"/>
<rect x="843" y="80" width="1" height="42" fill="#000"/>
<rect x="841" y="82" width="5" height="35" fill="#000"/>
<rect x="842" y="83" width="3" height="33" fill="#fff"/>
<rect x="851" y="78" width="1" height="32" fill="#000"/>
<rect x="849" y="80" width="5" height="27" fill="#000"/>
<rect x="850" y="81" width="3" height="25" fill="#ff0000"/>
<rect x="859" y="95" width="1" height="57" fill="#000"/>
<rect x="857" y="101" width="5" height="45" fill="#000"/>
<rect x="858" y="102" width="3" height="43" fill="#ff0000"/>
<rect x="867" y="136" width="1" height="33" fill="#000"/>
<rect x="865" y="144" width="5" height="15" fill="#000"/>
<rect x="866" y="145" width="3" height="13" fill="#ff0000"/>
<rect x="875" y="103" width="1" height="54" fill="#000"/>
<rect x="873" y="104" width="5" height="51" fill="#000"/>
<rect x="874" y="105" width="3" height="49" fill="#fff"/>
<rect x="883" y="104" width="1" height="34" fill="#000"/>
<rect x="881" y="108" width="5" height="29" fill="#000"/>
<rect x="882" y="109" width="3" height="27" fill="#ff0000"/>
<rect x="891" y="105" width="1" height="27" fill="#000"/>
<rect x="889" y="111" width="5" height="21" fill="#000"/>
<rect x="890" y="112" width="3" height="19" fill="#fff"/>
<rect x="899" y="109" width="1" height="37" fill="#000"/>
<rect x="897" y="118" width="5" height="26" fill="#000"/>
<rect x="898" y="119" width="3" height="24" fill="#ff0000"/>
<rect x="907" y="131" width="1" height="27" fill="#000"/>
<rect x="905" y="139" width="5" height="14" fill="#000"/>
<rect x="906" y="140" width="3" height="12" fill="#ff0000"/>
<rect x="915" y="139" width="1" height="84" fill="#000"/>
<rect x="913" y="141" width="5" height="60" fill="#000"/>
<rect x="914" y="142" width="3" height="58" fill="#ff0000"/>
<rect x="923" y="159" width="1" height="42" fill="#000"/>
<rect x="921" y="171" width="5" height="30" fill="#000"/>
<rect x="922" y="172" width="3" height="28" fill="#fff"/>
<rect x="931" y="176" width="1" height="38" fill="#000"/>
<rect x="929" y="178" width="5" height="31" fill="#000"/>
<rect x="930" y="179" width="3" height="29" fill="#ff0000"/>
<rect x="939" y="188" width="1" height="26" fill="#000"/>
<rect x="937" y="188" width="5" height="26" fill="#000"/>
<rect x="938" y="189" width="3" height="24" fill="#fff"/>
<rect x="947" y="159" width="1" height="26" fill="#000"/>
<rect x="945" y="174" width="5" height="11" fill="#000"/>
<rect x="946" y="175" width="3" height="9" fill="#fff"/>
<rect x="955" y="168" width="1" height="58" fill="#000"/>
<rect x="953" y="169" width="5" height="57" fill="#000"/>
<rect x="954" y="170" width="3" height="55" fill="#ff0000"/>
<rect x="963" y="208" width="1" height="22" fill="#000"/>
<rect x="961" y="212" width="5" height="2" fill="#000"/>
<rect x="971" y="209" width="1" height="48" fill="#000"/>
<rect x="969" y="213" width="5" height="44" fill="#000"/>
<rect x="970" y="214" width="3" height="42" fill="#ff0000"/>
<rect x="979" y="240" width="1" height="32" fill="#000"/>
<rect x="977" y="245" width="5" height="12" fill="#000"/>
<rect x="978" y="246" width="3" height="10" fill="#ff0000"/>
<rect x="987" y="244" width="1" height="37" fill="#000"/>
<rect x="985" y="247" width="5" height="34" fill="#000"/>
<rect x="986" y="248" width="3" height="32" fill="#ff0000"/>
<rect x="995" y="245" width="1" height="60" fill="#000"/>
<rect x="993" y="264" width="5" height="17" fill="#000"/>
<rect x="994" y="265" width="3" height="15" fill="#fff"/>
<rect x="1003" y="266" width="1" height="44" fill="#000"/>
<rect x="1001" y="266" width="5" height="39" fill="#000"/>
<rect x="1002" y="267" width="3" height="37" fill="#ff0000"/>
<rect x="1011" y="286" width="1" height="25" fill="#000"/>
<rect x="1009" y="301" width="5" height="9" fill="#000"/>
<rect x="1010" y="302" width="3" height="7" fill="#ff0000"/>
<rect x="1019" y="298" width="1" height="41" fill="#000"/>
<rect x="1017" y="301" width="5" height="36" fill="#000"/>
<rect x="1018" y="302" width="3" height="34" fill="#ff0000"/>
<rect x="1027" y="333" width="1" height="42" fill="#000"/>
<rect x="1025" y="333" width="5" height="42" fill="#000"/>
<rect x="1026" y="334" width="3" height="40" fill="#ff0000"/>
<rect x="1035" y="304" width="1" height="55" fill="#000"/>
<rect x="1033" y="319" width="5" height="36" fill="#000"/>
<rect x="1034" y="320" width="3" height="34" fill="#fff"/>
<rect x="1043" y="317" width="1" height="28" fill="#000"/>
<rect x="1041" y="317" width="5" height="24" fill="#000"/>
<rect x="1042" y="318" width="3" height="22" fill="#ff0000"/>
<rect x="1051" y="281" width="1" height="58" fill="#000"/>
<rect x="1049" y="281" width="5" height="58" fill="#000"/>
<rect x="1050" y="282" width="3" height="56" fill="#fff"/>
<rect x="1059" y="270" width="1" height="41" fill="#000"/>
<rect x="1057" y="282" width="5" height="18" fill="#000"/>
<rect x="1058" y="283" width="3" height="16" fill="#ff0000"/>
<rect x="1067" y="275" width="1" height="34" fill="#000"/>
<rect x="1065" y="294" width="5" height="5" fill="#000"/>
<rect x="1066" y="295" width="3" height="3" fill="#fff"/>
<rect x="1075" y="283" width="1" height="40" fill="#000"/>
<rect x="1073" y="297" width="5" height="20" fill="#000"/>
<rect x="1074" y="298" width="3" height="18" fill="#ff0000"/>
<rect x="1083" y="294" width="1" height="29" fill="#000"/>
<rect x="1081" y="295" width="5" height="22" fill="#000"/>
<rect x="1082" y="296" width="3" height="20" fill="#fff"/>
<rect x="1091" y="286" width="1" height="56" fill="#000"/>
<rect x="1089" y="287" width="5" height="50" fill="#000"/>
<rect x="1090" y="288" width="3" height="48" fill="#ff0000"/>
<rect x="1099" y="325" width="1" height="18" fill="#000"/>
<rect x="1097" y="326" width="5" height="11" fill="#000"/>
<rect x="1098" y="327" width="3" height="9" fill="#ff0000"/>
<rect x="1107" y="327" width="1" height="25" fill="#000"/>
<rect x="1105" y="328" width="5" height="13" fill="#000"/>
<rect x="1106" y="329" width="3" height="11" fill="#ff0000"/>
<rect x="1115" y="330" width="1" height="57" fill="#000"/>
<rect x="1113" y="339" width="5" height="48" fill="#000"/>
<rect x="1114" y="340" width="3" height="46" fill="#ff0000"/>
<rect x="1123" y="370" width="1" height="39" fill="#000"/>
<rect x="1121" y="382" width="5" height="9" fill="#000"/>
<rect x="1122" y="383" width="3" height="7" fill="#fff"/>
<rect x="1131" y="373" width="1" height="35" fill="#000"/>
<rect x="1129" y="377" width="5" height="29" fill="#000"/>
<rect x="1130" y="378" width="3" height="27" fill="#ff0000"/>
<rect x="1139" y="368" width="1" height="40" fill="#000"/>
<rect x="1137" y="368" width="5" height="33" fill="#000"/>
<rect x="1138" y="369" width="3" height="31" fill="#fff"/>
<rect x="1147" y="337" width="1" height="58" fill="#000"/>
<rect x="1145" y="337" width="5" height="37" fill="#000"/>
<rect x="1146" y="338" width="3" height="35" fill="#fff"/>
<rect x="1155" y="314" width="1" height="44" fill="#000"/>
<rect x="1153" y="320" width="5" height="14" fill="#000"/>
<rect x="1154" y="321" width="3" height="12" fill="#fff"/>
<rect x="1163" y="314" width="1" height="57" fill="#000"/>
<rect x="1161" y="316" width="5" height="20" fill="#000"/>
<rect x="1162" y="317" width="3" height="18" fill="#ff0000"/>
<rect x="1171" y="268" width="1" height="67" fill="#000"/>
<rect x="1169" y="275" width="5" height="57" fill="#000"/>
<rect x="1170" y="276" width="3" height="55" fill="#fff"/>
<rect x="1179" y="244" width="1" height="41" fill="#000"/>
<rect x="1177" y="251" width="5" height="21" fill="#000"/>
<rect x="1178" y="252" width="3" height="19" fill="#fff"/>
<rect x="1187" y="245" width="1" height="54" fill="#000"/>
<rect x="1185" y="247" width="5" height="8" fill="#000"/>
<rect x="1186" y="248" width="3" height="6" fill="#ff0000"/>
<rect x="1195" y="222" width="1" height="30" fill="#000"/>
<rect x="1193" y="224" width="5" height="28" fill="#000"/>
<rect x="1194" y="225" width="3" height="26" fill="#fff"/>
<rect x="1203" y="222" width="1" height="38" fill="#000"/>
<rect x="1201" y="231" width="5" height="29" fill="#000"/>
<rect x="1202" y="232" width="3" height="27" fill="#fff"/>
</g>
<path d="M1199,317h5v1h-5zM1191,318h13v1h-13zM1183,319h17v1h-17zM1175,320h17v1h-17zM1164,321h20v1h-20zM1148,322h28v1h-28zM1001,323h164v1h-164zM971,324h178v1h-178zM961,325h41v1h-41zM952,326h20v1h-20zM943,327h19v1h-19zM933,328h20v1h-20zM924,329h20v1h-20zM914,330h20v1h-20zM905,331h20v1h-20zM894,332h21v1h-21zM882,333h24v1h-24zM870,334h25v1h-25zM859,335h24v1h-24zM849,336h22v1h-22zM839,337h21v1h-21zM829,338h21v1h-21zM819,339h21v1h-21zM809,340h21v1h-21zM800,341h20v1h-20zM792,342h18v1h-18zM784,343h17v1h-17zM776,344h17v1h-17zM769,345h16v1h-16zM761,346h16v1h-16zM753,347h17v1h-17zM745,348h17v1h-17zM740,349h14v1h-14zM736,350h10v1h-10zM732,351h9v1h-9zM727,352h10v1h-10zM723,353h10v1h-10zM718,354h10v1h-10zM714,355h10v1h-10zM709,356h10v1h-10zM704,357h11v1h-11zM700,358h10v1h-10zM695,359h10v1h-10zM689,360h12v1h-12zM683,361h13v1h-13zM677,362h13v1h-13zM671,363h13v1h-13zM665,364h13v1h-13zM660,365h12v1h-12zM655,366h11v1h-11zM650,367h11v1h-11zM645,368h11v1h-11zM640,369h11v1h-11zM634,370h12v1h-12zM628,371h13v1h-13zM622,372h13v1h-13zM615,373h14v1h-14zM609,374h14v1h-14zM601,375h15v1h-15zM591,376h19v1h-19zM581,377h21v1h-21zM572,378h20v1h-20zM566,379h16v1h-16zM560,380h13v1h-13zM553,381h14v1h-14zM547,382h14v1h-14zM540,383h14v1h-14zM532,384h16v1h-16zM525,385h16v1h-16zM517,386h16v1h-16zM510,387h16v1h-16zM504,388h14v1h-14zM1,389h8v1h-8zM497,389h14v1h-14zM1,390h20v1h-20zM491,390h14v1h-14zM8,391h25v1h-25zM484,391h14v1h-14zM20,392h26v1h-26zM477,392h15v1h-15zM32,393h26v1h-26zM471,393h14v1h-14zM45,394h25v1h-25zM456,394h22v1h-22zM57,395h24v1h-24zM433,395h39v1h-39zM69,396h22v1h-22zM410,396h47v1h-47zM80,397h20v1h-20zM387,397h47v1h-47zM90,398h19v1h-19zM364,398h47v1h-47zM99,399h20v1h-20zM341,399h47v1h-47zM108,400h20v1h-20zM311,400h54v1h-54zM118,401h32v1h-32zM282,401h60v1h-60zM127,402h58v1h-58zM263,402h49v1h-49zM149,403h134v1h-134zM184,404h80v1h-80z" fill="#00ffff" shape-rendering="crispEdges"/>
<path d="M723,28h73v1h-73zM723,29h1v1h-1zM796,29h2v1h-2zM723,30h1v1h-1zM798,30h1v1h-1zM723,31h1v1h-1zM799,31h1v1h-1zM723,32h1v1h-1zM800,32h2v1h-2zM723,33h1v1h-1zM802,33h1v1h-1zM722,34h1v1h-1zM803,34h17v1h-17zM722,35h1v1h-1zM819,35h1v1h-1zM722,36h1v1h-1zM820,36h1v1h-1zM722,37h1v1h-1zM820,37h1v1h-1zM722,38h1v1h-1zM820,38h1v1h-1zM722,39h1v1h-1zM821,39h1v1h-1zM722,40h1v1h-1zM821,40h1v1h-1zM722,41h1v1h-1zM821,41h1v1h-1zM722,42h1v1h-1zM822,42h1v1h-1zM722,43h1v1h-1zM822,43h1v1h-1zM722,44h1v1h-1zM822,44h1v1h-1zM722,45h1v1h-1zM823,45h1v1h-1zM721,46h1v1h-1zM823,46h1v1h-1zM721,47h1v1h-1zM823,47h1v1h-1zM721,48h1v1h-1zM824,48h1v1h-1zM721,49h1v1h-1zM824,49h1v1h-1zM721,50h1v1h-1zM824,50h1v1h-1zM721,51h1v1h-1zM825,51h1v1h-1zM721,52h1v1h-1zM825,52h1v1h-1zM721,53h1v1h-1zM825,53h1v1h-1zM721,54h1v1h-1zM826,54h1v1h-1zM721,55h1v1h-1zM826,55h1v1h-1zM721,56h1v1h-1zM826,56h1v1h-1zM720,57h1v1h-1zM827,57h1v1h-1zM720,58h1v1h-1zM827,58h1v1h-1zM720,59h1v1h-1zM827,59h1v1h-1zM720,60h1v1h-1zM828,60h1v1h-1zM720,61h1v1h-1zM828,61h1v1h-1zM720,62h1v1h-1zM828,62h1v1h-1zM720,63h1v1h-1zM828,63h1v1h-1zM720,64h1v1h-1zM829,64h1v1h-1zM720,65h1v1h-1zM829,65h1v1h-1zM720,66h1v1h-1zM829,66h1v1h-1zM720,67h1v1h-1zM829,67h1v1h-1zM720,68h1v1h-1zM830,68h1v1h-1zM719,69h1v1h-1zM830,69h1v1h-1zM719,70h1v1h-1zM830,70h1v1h-1zM719,71h1v1h-1zM830,71h1v1h-1zM719,72h1v1h-1zM831,72h1v1h-1zM719,73h1v1h-1zM831,73h1v1h-1zM719,74h1v1h-1zM831,74h1v1h-1zM719,75h1v1h-1zM831,75h1v1h-1zM719,76h1v1h-1zM832,76h1v1h-1zM719,77h1v1h-1zM832,77h1v1h-1zM850,77h74v1h-74zM719,78h1v1h-1zM832,78h1v1h-1zM846,78h4v1h-4zM923,78h1v1h-1zM719,79h1v1h-1zM832,79h1v1h-1zM843,79h3v1h-3zM924,79h1v1h-1zM718,80h1v1h-1zM833,80h1v1h-1zM842,80h1v1h-1zM924,80h1v1h-1zM718,81h1v1h-1zM833,81h1v1h-1zM841,81h1v1h-1zM925,81h1v1h-1zM718,82h1v1h-1zM833,82h1v1h-1zM841,82h1v1h-1zM925,82h1v1h-1zM718,83h1v1h-1zM833,83h1v1h-1zM840,83h1v1h-1zM926,83h1v1h-1zM718,84h1v1h-1zM834,84h1v1h-1zM839,84h1v1h-1zM926,84h1v1h-1zM718,85h1v1h-1zM834,85h1v1h-1zM838,85h1v1h-1zM926,85h1v1h-1zM718,86h1v1h-1zM834,86h1v1h-1zM837,86h1v1h-1zM927,86h1v1h-1zM563,87h74v1h-74zM718,87h1v1h-1zM834,87h1v1h-1zM837,87h1v1h-1zM927,87h1v1h-1zM563,88h1v1h-1zM637,88h2v1h-2zM718,88h1v1h-1zM835,88h2v1h-2zM928,88h1v1h-1zM562,89h1v1h-1zM639,89h2v1h-2zM718,89h1v1h-1zM835,89h1v1h-1zM928,89h1v1h-1zM562,90h1v1h-1zM641,90h2v1h-2zM718,90h1v1h-1zM928,90h1v1h-1zM561,91h1v1h-1zM643,91h1v1h-1zM718,91h1v1h-1zM929,91h1v1h-1zM561,92h1v1h-1zM643,92h1v1h-1zM717,92h1v1h-1zM929,92h1v1h-1zM560,93h1v1h-1zM644,93h1v1h-1zM717,93h1v1h-1zM930,93h1v1h-1zM560,94h1v1h-1zM644,94h1v1h-1zM717,94h1v1h-1zM930,94h1v1h-1zM559,95h1v1h-1zM644,95h1v1h-1zM717,95h1v1h-1zM931,95h1v1h-1zM559,96h1v1h-1zM644,96h1v1h-1zM717,96h1v1h-1zM931,96h1v1h-1zM559,97h1v1h-1zM645,97h1v1h-1zM717,97h1v1h-1zM932,97h2v1h-2zM558,98h1v1h-1zM645,98h1v1h-1zM717,98h1v1h-1zM934,98h1v1h-1zM558,99h1v1h-1zM645,99h1v1h-1zM717,99h1v1h-1zM935,99h1v1h-1zM557,100h1v1h-1zM645,100h1v1h-1zM717,100h1v1h-1zM936,100h2v1h-2zM557,101h1v1h-1zM646,101h1v1h-1zM717,101h1v1h-1zM938,101h1v1h-1zM556,102h1v1h-1zM646,102h1v1h-1zM717,102h1v1h-1zM939,102h11v1h-11zM556,103h1v1h-1zM646,103h1v1h-1zM716,103h1v1h-1zM950,103h4v1h-4zM555,104h1v1h-1zM647,104h1v1h-1zM716,104h1v1h-1zM954,104h6v1h-6zM547,105h9v1h-9zM647,105h1v1h-1zM716,105h1v1h-1zM960,105h5v1h-5zM547,106h1v1h-1zM647,106h1v1h-1zM716,106h1v1h-1zM965,106h2v1h-2zM547,107h1v1h-1zM647,107h1v1h-1zM716,107h1v1h-1zM967,107h2v1h-2zM547,108h1v1h-1zM648,108h1v1h-1zM716,108h1v1h-1zM969,108h2v1h-2zM546,109h1v1h-1zM648,109h1v1h-1zM716,109h1v1h-1zM971,109h1v1h-1zM546,110h1v1h-1zM648,110h1v1h-1zM716,110h1v1h-1zM971,110h1v1h-1zM546,111h1v1h-1zM649,111h1v1h-1zM716,111h1v1h-1zM972,111h1v1h-1zM546,112h1v1h-1zM649,112h1v1h-1zM716,112h1v1h-1zM972,112h1v1h-1zM546,113h1v1h-1zM649,113h1v1h-1zM716,113h1v1h-1zM972,113h1v1h-1zM546,114h1v1h-1zM649,114h1v1h-1zM716,114h1v1h-1zM973,114h1v1h-1zM546,115h1v1h-1zM650,115h1v1h-1zM715,115h1v1h-1zM973,115h1v1h-1zM545,116h1v1h-1zM650,116h1v1h-1zM715,116h1v1h-1zM974,116h1v1h-1zM545,117h1v1h-1zM650,117h1v1h-1zM715,117h1v1h-1zM974,117h1v1h-1zM545,118h1v1h-1zM650,118h1v1h-1zM715,118h1v1h-1zM974,118h1v1h-1zM545,119h1v1h-1zM651,119h1v1h-1zM715,119h1v1h-1zM975,119h1v1h-1zM545,120h1v1h-1zM651,120h65v1h-65zM975,120h1v1h-1zM545,121h1v1h-1zM975,121h1v1h-1zM545,122h1v1h-1zM976,122h1v1h-1zM544,123h1v1h-1zM976,123h1v1h-1zM544,124h1v1h-1zM976,124h1v1h-1zM544,125h1v1h-1zM977,125h1v1h-1zM544,126h1v1h-1zM977,126h1v1h-1zM544,127h1v1h-1zM978,127h1v1h-1zM544,128h1v1h-1zM978,128h1v1h-1zM544,129h1v1h-1zM978,129h1v1h-1zM543,130h1v1h-1zM979,130h1v1h-1zM543,131h1v1h-1zM979,131h1v1h-1zM543,132h1v1h-1zM980,132h1v1h-1zM543,133h1v1h-1zM981,133h1v1h-1zM543,134h1v1h-1zM982,134h1v1h-1zM543,135h1v1h-1zM983,135h1v1h-1zM542,136h1v1h-1zM983,136h1v1h-1zM542,137h1v1h-1zM984,137h1v1h-1zM542,138h1v1h-1zM985,138h1v1h-1zM542,139h1v1h-1zM986,139h1v1h-1zM542,140h1v1h-1zM987,140h1v1h-1zM542,141h1v1h-1zM987,141h1v1h-1zM542,142h1v1h-1zM988,142h1v1h-1zM541,143h1v1h-1zM988,143h1v1h-1zM541,144h1v1h-1zM989,144h1v1h-1zM541,145h1v1h-1zM989,145h1v1h-1zM541,146h1v1h-1zM990,146h1v1h-1zM541,147h1v1h-1zM990,147h1v1h-1zM541,148h1v1h-1zM990,148h1v1h-1zM541,149h1v1h-1zM991,149h1v1h-1zM540,150h1v1h-1zM991,150h1v1h-1zM540,151h1v1h-1zM992,151h1v1h-1zM540,152h1v1h-1zM992,152h1v1h-1zM540,153h1v1h-1zM992,153h1v1h-1zM540,154h1v1h-1zM993,154h1v1h-1zM540,155h1v1h-1zM993,155h1v1h-1zM540,156h1v1h-1zM994,156h1v1h-1zM539,157h1v1h-1zM994,157h1v1h-1zM539,158h1v1h-1zM995,158h1v1h-1zM539,159h1v1h-1zM995,159h25v1h-25zM539,160h1v1h-1zM1020,160h1v1h-1zM539,161h1v1h-1zM1021,161h1v1h-1zM538,162h1v1h-1zM1022,162h1v1h-1zM538,163h1v1h-1zM1023,163h1v1h-1zM537,164h1v1h-1zM1023,164h1v1h-1zM537,165h1v1h-1zM1024,165h1v1h-1zM536,166h1v1h-1zM1025,166h1v1h-1zM536,167h1v1h-1zM1026,167h1v1h-1zM535,168h1v1h-1zM1027,168h1v1h-1zM535,169h1v1h-1zM1027,169h1v1h-1zM534,170h1v1h-1zM1027,170h1v1h-1zM534,171h1v1h-1zM1028,171h1v1h-1zM533,172h1v1h-1zM1028,172h1v1h-1zM533,173h1v1h-1zM1028,173h1v1h-1zM532,174h1v1h-1zM1028,174h1v1h-1zM532,175h1v1h-1zM1028,175h1v1h-1zM531,176h1v1h-1zM1029,176h1v1h-1zM499,177h33v1h-33zM1029,177h1v1h-1zM499,178h1v1h-1zM1029,178h1v1h-1zM499,179h1v1h-1zM1029,179h1v1h-1zM499,180h1v1h-1zM1029,180h1v1h-1zM499,181h1v1h-1zM1030,181h1v1h-1zM498,182h1v1h-1zM1030,182h1v1h-1zM498,183h1v1h-1zM1030,183h1v1h-1zM498,184h1v1h-1zM1030,184h1v1h-1zM498,185h1v1h-1zM1030,185h1v1h-1zM498,186h1v1h-1zM1031,186h1v1h-1zM498,187h1v1h-1zM1031,187h1v1h-1zM498,188h1v1h-1zM1031,188h1v1h-1zM498,189h1v1h-1zM1031,189h1v1h-1zM498,190h1v1h-1zM1032,190h1v1h-1zM498,191h1v1h-1zM1032,191h1v1h-1zM497,192h1v1h-1zM1032,192h1v1h-1zM497,193h1v1h-1zM1032,193h1v1h-1zM497,194h1v1h-1zM1032,194h1v1h-1zM497,195h1v1h-1zM1033,195h1v1h-1zM497,196h1v1h-1zM1033,196h1v1h-1zM497,197h1v1h-1zM1033,197h1v1h-1zM497,198h1v1h-1zM1033,198h1v1h-1zM497,199h1v1h-1zM1033,199h1v1h-1zM497,200h1v1h-1zM1034,200h1v1h-1zM497,201h1v1h-1zM1034,201h1v1h-1zM496,202h1v1h-1zM1034,202h1v1h-1zM496,203h1v1h-1zM1034,203h1v1h-1zM496,204h1v1h-1zM1034,204h1v1h-1zM496,205h1v1h-1zM1035,205h1v1h-1zM496,206h1v1h-1zM1035,206h1v1h-1zM496,207h1v1h-1zM1035,207h2v1h-2zM496,208h1v1h-1zM1037,208h3v1h-3zM496,209h1v1h-1zM1040,209h2v1h-2zM496,210h1v1h-1zM1042,210h2v1h-2zM496,211h1v1h-1zM1043,211h1v1h-1zM495,212h1v1h-1zM1044,212h1v1h-1zM495,213h1v1h-1zM1044,213h1v1h-1zM495,214h1v1h-1zM1044,214h1v1h-1zM495,215h1v1h-1zM1044,215h1v1h-1zM495,216h1v1h-1zM1045,216h1v1h-1zM495,217h1v1h-1zM1045,217h1v1h-1zM495,218h1v1h-1zM1045,218h1v1h-1zM495,219h1v1h-1zM1045,219h1v1h-1zM495,220h1v1h-1zM1046,220h1v1h-1zM495,221h1v1h-1zM1046,221h1v1h-1zM1195,221h9v1h-9zM494,222h1v1h-1zM1046,222h1v1h-1zM1195,222h1v1h-1zM494,223h1v1h-1zM1046,223h1v1h-1zM1194,223h1v1h-1zM494,224h1v1h-1zM1047,224h1v1h-1zM1194,224h1v1h-1zM494,225h1v1h-1zM1047,225h1v1h-1zM1193,225h1v1h-1zM494,226h1v1h-1zM1047,226h1v1h-1zM1193,226h1v1h-1zM494,227h1v1h-1zM1048,227h1v1h-1zM1193,227h1v1h-1zM494,228h1v1h-1zM1048,228h1v1h-1zM1192,228h1v1h-1zM494,229h1v1h-1zM1048,229h1v1h-1zM1192,229h1v1h-1zM494,230h1v1h-1zM1048,230h1v1h-1zM1191,230h1v1h-1zM494,231h1v1h-1zM1049,231h1v1h-1zM1191,231h1v1h-1zM493,232h1v1h-1zM1049,232h1v1h-1zM1191,232h1v1h-1zM493,233h1v1h-1zM1049,233h1v1h-1zM1190,233h1v1h-1zM493,234h1v1h-1zM1049,234h1v1h-1zM1190,234h1v1h-1zM493,235h1v1h-1zM1050,235h1v1h-1zM1189,235h1v1h-1zM493,236h1v1h-1zM1050,236h1v1h-1zM1189,236h1v1h-1zM493,237h1v1h-1zM1050,237h1v1h-1zM1189,237h1v1h-1zM493,238h1v1h-1zM1050,238h1v1h-1zM1188,238h1v1h-1zM299,239h73v1h-73zM493,239h1v1h-1zM1051,239h1v1h-1zM1188,239h1v1h-1zM298,240h1v1h-1zM372,240h2v1h-2zM493,240h1v1h-1zM1051,240h2v1h-2zM1187,240h1v1h-1zM298,241h1v1h-1zM374,241h2v1h-2zM493,241h1v1h-1zM1053,241h2v1h-2zM1179,241h9v1h-9zM297,242h1v1h-1zM376,242h1v1h-1zM492,242h1v1h-1zM1055,242h2v1h-2zM1179,242h1v1h-1zM297,243h1v1h-1zM377,243h2v1h-2zM492,243h1v1h-1zM1057,243h2v1h-2zM1178,243h1v1h-1zM296,244h1v1h-1zM379,244h1v1h-1zM492,244h1v1h-1zM1059,244h5v1h-5zM1178,244h1v1h-1zM295,245h1v1h-1zM380,245h1v1h-1zM492,245h1v1h-1zM1064,245h4v1h-4zM1178,245h1v1h-1zM295,246h1v1h-1zM380,246h1v1h-1zM492,246h1v1h-1zM1067,246h1v1h-1zM1178,246h1v1h-1zM294,247h1v1h-1zM381,247h1v1h-1zM492,247h1v1h-1zM1068,247h1v1h-1zM1177,247h1v1h-1zM293,248h1v1h-1zM382,248h1v1h-1zM492,248h1v1h-1zM1068,248h1v1h-1zM1177,248h1v1h-1zM293,249h1v1h-1zM382,249h1v1h-1zM492,249h1v1h-1zM1069,249h1v1h-1zM1177,249h1v1h-1zM292,250h1v1h-1zM383,250h1v1h-1zM492,250h1v1h-1zM1069,250h1v1h-1zM1176,250h1v1h-1zM292,251h1v1h-1zM384,251h1v1h-1zM492,251h1v1h-1zM1069,251h1v1h-1zM1176,251h1v1h-1zM291,252h1v1h-1zM384,252h1v1h-1zM491,252h1v1h-1zM1070,252h1v1h-1zM1176,252h1v1h-1zM291,253h1v1h-1zM385,253h1v1h-1zM491,253h1v1h-1zM1070,253h1v1h-1zM1175,253h1v1h-1zM290,254h1v1h-1zM386,254h1v1h-1zM491,254h1v1h-1zM1071,254h1v1h-1zM1175,254h1v1h-1zM290,255h1v1h-1zM386,255h1v1h-1zM491,255h1v1h-1zM1071,255h1v1h-1zM1175,255h1v1h-1zM290,256h1v1h-1zM387,256h1v1h-1zM491,256h1v1h-1zM1071,256h1v1h-1zM1175,256h1v1h-1zM290,257h1v1h-1zM387,257h1v1h-1zM490,257h1v1h-1zM1072,257h1v1h-1zM1174,257h1v1h-1zM289,258h1v1h-1zM387,258h1v1h-1zM490,258h1v1h-1zM1072,258h1v1h-1zM1174,258h1v1h-1zM289,259h1v1h-1zM387,259h1v1h-1zM489,259h1v1h-1zM1073,259h1v1h-1zM1174,259h1v1h-1zM289,260h1v1h-1zM387,260h1v1h-1zM488,260h1v1h-1zM1073,260h1v1h-1zM1173,260h1v1h-1zM289,261h1v1h-1zM388,261h1v1h-1zM487,261h1v1h-1zM1073,261h1v1h-1zM1173,261h1v1h-1zM288,262h1v1h-1zM388,262h1v1h-1zM487,262h1v1h-1zM1074,262h1v1h-1zM1173,262h1v1h-1zM288,263h1v1h-1zM388,263h1v1h-1zM486,263h1v1h-1zM1074,263h1v1h-1zM1172,263h1v1h-1zM288,264h1v1h-1zM388,264h1v1h-1zM485,264h1v1h-1zM1075,264h1v1h-1zM1172,264h1v1h-1zM287,265h1v1h-1zM388,265h1v1h-1zM484,265h1v1h-1zM1075,265h1v1h-1zM1172,265h1v1h-1zM287,266h1v1h-1zM388,266h1v1h-1zM484,266h1v1h-1zM1076,266h2v1h-2zM1172,266h1v1h-1zM287,267h1v1h-1zM388,267h1v1h-1zM459,267h25v1h-25zM1078,267h2v1h-2zM1171,267h1v1h-1zM287,268h1v1h-1zM388,268h1v1h-1zM458,268h1v1h-1zM1080,268h1v1h-1zM1171,268h1v1h-1zM286,269h1v1h-1zM388,269h1v1h-1zM457,269h1v1h-1zM1081,269h2v1h-2zM1171,269h1v1h-1zM286,270h1v1h-1zM389,270h1v1h-1zM456,270h1v1h-1zM1083,270h49v1h-49zM1170,270h1v1h-1zM286,271h1v1h-1zM389,271h1v1h-1zM455,271h1v1h-1zM1132,271h2v1h-2zM1170,271h1v1h-1zM285,272h1v1h-1zM389,272h1v1h-1zM454,272h1v1h-1zM1134,272h1v1h-1zM1169,272h1v1h-1zM285,273h1v1h-1zM389,273h1v1h-1zM453,273h1v1h-1zM1135,273h1v1h-1zM1169,273h1v1h-1zM285,274h1v1h-1zM389,274h1v1h-1zM452,274h1v1h-1zM1136,274h2v1h-2zM1168,274h1v1h-1zM285,275h1v1h-1zM389,275h1v1h-1zM432,275h20v1h-20zM1138,275h1v1h-1zM1168,275h1v1h-1zM284,276h1v1h-1zM389,276h1v1h-1zM427,276h5v1h-5zM1139,276h1v1h-1zM1168,276h1v1h-1zM284,277h1v1h-1zM389,277h1v1h-1zM427,277h1v1h-1zM1140,277h1v1h-1zM1167,277h1v1h-1zM284,278h1v1h-1zM389,278h1v1h-1zM426,278h1v1h-1zM1141,278h1v1h-1zM1167,278h1v1h-1zM284,279h1v1h-1zM390,279h1v1h-1zM426,279h1v1h-1zM1142,279h2v1h-2zM1166,279h1v1h-1zM283,280h1v1h-1zM390,280h1v1h-1zM426,280h1v1h-1zM1144,280h1v1h-1zM1166,280h1v1h-1zM283,281h1v1h-1zM390,281h1v1h-1zM426,281h1v1h-1zM1145,281h1v1h-1zM1166,281h1v1h-1zM283,282h1v1h-1zM390,282h1v1h-1zM425,282h1v1h-1zM1146,282h1v1h-1zM1165,282h1v1h-1zM283,283h1v1h-1zM390,283h1v1h-1zM425,283h1v1h-1zM1147,283h2v1h-2zM1165,283h1v1h-1zM282,284h1v1h-1zM390,284h1v1h-1zM425,284h1v1h-1zM1149,284h2v1h-2zM1164,284h1v1h-1zM282,285h1v1h-1zM390,285h1v1h-1zM425,285h1v1h-1zM1151,285h2v1h-2zM1164,285h1v1h-1zM282,286h1v1h-1zM390,286h1v1h-1zM424,286h1v1h-1zM1153,286h2v1h-2zM1163,286h1v1h-1zM282,287h1v1h-1zM390,287h1v1h-1zM424,287h1v1h-1zM1155,287h9v1h-9zM282,288h1v1h-1zM391,288h1v1h-1zM424,288h1v1h-1zM281,289h1v1h-1zM391,289h1v1h-1zM424,289h1v1h-1zM281,290h1v1h-1zM391,290h1v1h-1zM423,290h1v1h-1zM281,291h1v1h-1zM391,291h1v1h-1zM423,291h1v1h-1zM281,292h1v1h-1zM391,292h1v1h-1zM423,292h1v1h-1zM280,293h1v1h-1zM391,293h1v1h-1zM423,293h1v1h-1zM280,294h1v1h-1zM391,294h1v1h-1zM422,294h1v1h-1zM280,295h1v1h-1zM391,295h1v1h-1zM422,295h1v1h-1zM280,296h1v1h-1zM391,296h1v1h-1zM422,296h1v1h-1zM280,297h1v1h-1zM392,297h1v1h-1zM422,297h1v1h-1zM279,298h1v1h-1zM392,298h1v1h-1zM421,298h1v1h-1zM279,299h1v1h-1zM392,299h1v1h-1zM421,299h1v1h-1zM279,300h1v1h-1zM392,300h1v1h-1zM421,300h1v1h-1zM279,301h1v1h-1zM392,301h1v1h-1zM421,301h1v1h-1zM279,302h1v1h-1zM392,302h1v1h-1zM420,302h1v1h-1zM278,303h1v1h-1zM392,303h1v1h-1zM420,303h1v1h-1zM278,304h1v1h-1zM392,304h1v1h-1zM420,304h1v1h-1zM278,305h1v1h-1zM392,305h1v1h-1zM420,305h1v1h-1zM278,306h1v1h-1zM393,306h1v1h-1zM419,306h1v1h-1zM278,307h1v1h-1zM393,307h1v1h-1zM419,307h1v1h-1zM277,308h1v1h-1zM393,308h1v1h-1zM419,308h1v1h-1zM277,309h1v1h-1zM393,309h1v1h-1zM418,309h1v1h-1zM277,310h1v1h-1zM393,310h1v1h-1zM418,310h1v1h-1zM277,311h1v1h-1zM393,311h1v1h-1zM417,311h1v1h-1zM276,312h1v1h-1zM393,312h1v1h-1zM417,312h1v1h-1zM276,313h1v1h-1zM393,313h1v1h-1zM417,313h1v1h-1zM276,314h1v1h-1zM393,314h1v1h-1zM416,314h1v1h-1zM276,315h1v1h-1zM394,315h1v1h-1zM416,315h1v1h-1zM276,316h1v1h-1zM394,316h1v1h-1zM416,316h1v1h-1zM275,317h1v1h-1zM394,317h1v1h-1zM415,317h1v1h-1zM275,318h1v1h-1zM394,318h1v1h-1zM415,318h1v1h-1zM275,319h1v1h-1zM394,319h1v1h-1zM414,319h1v1h-1zM274,320h1v1h-1zM394,320h1v1h-1zM414,320h1v1h-1zM272,321h2v1h-2zM394,321h1v1h-1zM414,321h1v1h-1zM271,322h1v1h-1zM394,322h1v1h-1zM413,322h1v1h-1zM270,323h1v1h-1zM394,323h1v1h-1zM413,323h1v1h-1zM268,324h2v1h-2zM395,324h1v1h-1zM413,324h1v1h-1zM267,325h1v1h-1zM395,325h1v1h-1zM412,325h1v1h-1zM267,326h1v1h-1zM395,326h1v1h-1zM412,326h1v1h-1zM266,327h1v1h-1zM395,327h1v1h-1zM411,327h1v1h-1zM266,328h1v1h-1zM395,328h17v1h-17zM265,329h1v1h-1zM265,330h1v1h-1zM264,331h1v1h-1zM264,332h1v1h-1zM263,333h1v1h-1zM263,334h1v1h-1zM262,335h1v1h-1zM262,336h1v1h-1zM261,337h1v1h-1zM261,338h1v1h-1zM260,339h1v1h-1zM260,340h1v1h-1zM259,341h1v1h-1zM258,342h2v1h-2zM254,343h4v1h-4zM251,344h3v1h-3zM250,345h1v1h-1zM250,346h1v1h-1zM249,347h1v1h-1zM248,348h1v1h-1zM247,349h1v1h-1zM247,350h1v1h-1zM246,351h1v1h-1zM245,352h1v1h-1zM244,353h1v1h-1zM244,354h1v1h-1zM235,355h9v1h-9zM235,356h1v1h-1zM234,357h1v1h-1zM234,358h1v1h-1zM233,359h1v1h-1zM233,360h1v1h-1zM233,361h1v1h-1zM232,362h1v1h-1zM232,363h1v1h-1zM231,364h1v1h-1zM231,365h1v1h-1zM231,366h1v1h-1zM230,367h1v1h-1zM230,368h1v1h-1zM229,369h1v1h-1zM229,370h1v1h-1zM229,371h1v1h-1zM228,372h1v1h-1zM228,373h1v1h-1zM227,374h1v1h-1zM171,375h57v1h-57zM171,376h1v1h-1zM170,377h1v1h-1zM170,378h1v1h-1zM169,379h1v1h-1zM169,380h1v1h-1zM169,381h1v1h-1zM168,382h1v1h-1zM168,383h1v1h-1zM167,384h1v1h-1zM167,385h1v1h-1zM167,386h1v1h-1zM166,387h1v1h-1zM166,388h1v1h-1zM165,389h1v1h-1zM165,390h1v1h-1zM165,391h1v1h-1zM164,392h1v1h-1zM164,393h1v1h-1zM163,394h1v1h-1zM139,395h25v1h-25zM137,396h2v1h-2zM135,397h2v1h-2zM133,398h2v1h-2zM131,399h2v1h-2zM130,400h1v1h-1zM130,401h1v1h-1zM129,402h1v1h-1zM128,403h1v1h-1zM128,404h1v1h-1zM10,405h78v1h-78zM127,405h1v1h-1zM6,406h4v1h-4zM88,406h8v1h-8zM126,406h1v1h-1zM3,407h3v1h-3zM96,407h8v1h-8zM126,407h1v1h-1zM104,408h8v1h-8zM125,408h1v1h-1zM112,409h6v1h-6zM124,409h1v1h-1zM118,410h4v1h-4zM124,410h1v1h-1zM122,411h2v1h-2z" fill="#ff00ff" shape-rendering="crispEdges"/>
<path d="M898,168h10v1h-10zM894,169h4v1h-4zM907,169h1v1h-1zM891,170h3v1h-3zM907,170h1v1h-1zM890,171h1v1h-1zM907,171h1v1h-1zM889,172h1v1h-1zM908,172h1v1h-1zM888,173h1v1h-1zM908,173h1v1h-1zM887,174h1v1h-1zM908,174h1v1h-1zM787,175h9v1h-9zM886,175h1v1h-1zM908,175h1v1h-1zM786,176h1v1h-1zM796,176h1v1h-1zM885,176h1v1h-1zM908,176h1v1h-1zM786,177h1v1h-1zM796,177h1v1h-1zM884,177h1v1h-1zM908,177h1v1h-1zM785,178h1v1h-1zM797,178h1v1h-1zM883,178h1v1h-1zM908,178h1v1h-1zM784,179h1v1h-1zM798,179h1v1h-1zM882,179h1v1h-1zM909,179h1v1h-1zM784,180h1v1h-1zM799,180h1v1h-1zM881,180h1v1h-1zM909,180h1v1h-1zM783,181h1v1h-1zM799,181h1v1h-1zM880,181h1v1h-1zM909,181h1v1h-1zM782,182h1v1h-1zM800,182h1v1h-1zM879,182h1v1h-1zM909,182h1v1h-1zM782,183h1v1h-1zM801,183h1v1h-1zM878,183h1v1h-1zM909,183h1v1h-1zM781,184h1v1h-1zM802,184h1v1h-1zM877,184h1v1h-1zM909,184h1v1h-1zM780,185h1v1h-1zM802,185h1v1h-1zM876,185h1v1h-1zM910,185h1v1h-1zM780,186h1v1h-1zM803,186h73v1h-73zM910,186h1v1h-1zM779,187h1v1h-1zM910,187h1v1h-1zM778,188h1v1h-1zM910,188h1v1h-1zM778,189h1v1h-1zM910,189h1v1h-1zM777,190h1v1h-1zM910,190h1v1h-1zM776,191h1v1h-1zM910,191h1v1h-1zM775,192h1v1h-1zM911,192h1v1h-1zM775,193h1v1h-1zM911,193h1v1h-1zM774,194h1v1h-1zM911,194h1v1h-1zM773,195h1v1h-1zM911,195h1v1h-1zM772,196h1v1h-1zM911,196h1v1h-1zM772,197h1v1h-1zM911,197h1v1h-1zM768,198h4v1h-4zM911,198h1v1h-1zM760,199h8v1h-8zM912,199h1v1h-1zM755,200h5v1h-5zM912,200h1v1h-1zM753,201h2v1h-2zM912,201h1v1h-1zM751,202h2v1h-2zM912,202h1v1h-1zM749,203h2v1h-2zM912,203h1v1h-1zM691,204h58v1h-58zM912,204h1v1h-1zM691,205h1v1h-1zM912,205h1v1h-1zM690,206h1v1h-1zM913,206h1v1h-1zM690,207h1v1h-1zM913,207h1v1h-1zM690,208h1v1h-1zM913,208h1v1h-1zM690,209h1v1h-1zM913,209h1v1h-1zM689,210h1v1h-1zM913,210h1v1h-1zM689,211h1v1h-1zM913,211h1v1h-1zM689,212h1v1h-1zM914,212h1v1h-1zM688,213h1v1h-1zM914,213h1v1h-1zM688,214h1v1h-1zM914,214h1v1h-1zM688,215h1v1h-1zM914,215h1v1h-1zM687,216h1v1h-1zM914,216h1v1h-1zM687,217h1v1h-1zM914,217h1v1h-1zM687,218h1v1h-1zM914,218h1v1h-1zM687,219h1v1h-1zM915,219h1v1h-1zM686,220h1v1h-1zM915,220h1v1h-1zM686,221h1v1h-1zM915,221h1v1h-1zM686,222h1v1h-1zM915,222h34v1h-34zM685,223h1v1h-1zM949,223h3v1h-3zM685,224h1v1h-1zM952,224h2v1h-2zM685,225h1v1h-1zM954,225h3v1h-3zM684,226h1v1h-1zM957,226h2v1h-2zM684,227h1v1h-1zM959,227h2v1h-2zM684,228h1v1h-1zM961,228h2v1h-2zM684,229h1v1h-1zM963,229h1v1h-1zM683,230h1v1h-1zM963,230h1v1h-1zM683,231h1v1h-1zM964,231h1v1h-1zM683,232h1v1h-1zM964,232h1v1h-1zM682,233h1v1h-1zM964,233h1v1h-1zM682,234h1v1h-1zM964,234h1v1h-1zM681,235h1v1h-1zM965,235h1v1h-1zM681,236h1v1h-1zM965,236h1v1h-1zM680,237h1v1h-1zM965,237h1v1h-1zM680,238h1v1h-1zM966,238h1v1h-1zM680,239h1v1h-1zM966,239h1v1h-1zM679,240h1v1h-1zM966,240h1v1h-1zM679,241h1v1h-1zM967,241h1v1h-1zM678,242h1v1h-1zM967,242h1v1h-1zM678,243h1v1h-1zM967,243h1v1h-1zM678,244h1v1h-1zM967,244h1v1h-1zM677,245h1v1h-1zM968,245h1v1h-1zM677,246h1v1h-1zM968,246h1v1h-1zM676,247h1v1h-1zM968,247h1v1h-1zM676,248h1v1h-1zM969,248h1v1h-1zM675,249h1v1h-1zM969,249h1v1h-1zM675,250h1v1h-1zM969,250h1v1h-1zM674,251h1v1h-1zM970,251h1v1h-1zM674,252h1v1h-1zM970,252h1v1h-1zM673,253h1v1h-1zM970,253h1v1h-1zM672,254h1v1h-1zM970,254h1v1h-1zM672,255h1v1h-1zM971,255h1v1h-1zM671,256h1v1h-1zM971,256h1v1h-1zM670,257h1v1h-1zM972,257h1v1h-1zM670,258h1v1h-1zM972,258h1v1h-1zM669,259h1v1h-1zM973,259h1v1h-1zM668,260h1v1h-1zM973,260h1v1h-1zM668,261h1v1h-1zM974,261h1v1h-1zM595,262h73v1h-73zM974,262h1v1h-1zM595,263h1v1h-1zM975,263h1v1h-1zM594,264h1v1h-1zM976,264h1v1h-1zM594,265h1v1h-1zM976,265h1v1h-1zM594,266h1v1h-1zM977,266h1v1h-1zM593,267h1v1h-1zM977,267h1v1h-1zM593,268h1v1h-1zM978,268h1v1h-1zM592,269h1v1h-1zM978,269h1v1h-1zM592,270h1v1h-1zM979,270h1v1h-1zM592,271h1v1h-1zM980,271h1v1h-1zM591,272h1v1h-1zM980,272h1v1h-1zM591,273h1v1h-1zM981,273h1v1h-1zM591,274h1v1h-1zM982,274h1v1h-1zM590,275h1v1h-1zM983,275h1v1h-1zM590,276h1v1h-1zM983,276h1v1h-1zM590,277h1v1h-1zM984,277h1v1h-1zM589,278h1v1h-1zM985,278h1v1h-1zM589,279h1v1h-1zM986,279h1v1h-1zM588,280h1v1h-1zM986,280h1v1h-1zM588,281h1v1h-1zM987,281h1v1h-1zM588,282h1v1h-1zM987,282h1v1h-1zM587,283h1v1h-1zM988,283h1v1h-1zM587,284h1v1h-1zM988,284h1v1h-1zM586,285h1v1h-1zM988,285h1v1h-1zM584,286h2v1h-2zM989,286h1v1h-1zM583,287h1v1h-1zM989,287h1v1h-1zM582,288h1v1h-1zM990,288h1v1h-1zM580,289h2v1h-2zM990,289h1v1h-1zM560,290h20v1h-20zM990,290h1v1h-1zM555,291h5v1h-5zM991,291h1v1h-1zM554,292h1v1h-1zM991,292h1v1h-1zM554,293h1v1h-1zM991,293h1v1h-1zM553,294h1v1h-1zM992,294h1v1h-1zM553,295h1v1h-1zM992,295h1v1h-1zM552,296h1v1h-1zM992,296h1v1h-1zM552,297h1v1h-1zM993,297h1v1h-1zM551,298h1v1h-1zM993,298h1v1h-1zM550,299h1v1h-1zM994,299h1v1h-1zM550,300h1v1h-1zM994,300h1v1h-1zM549,301h1v1h-1zM994,301h1v1h-1zM549,302h1v1h-1zM995,302h1v1h-1zM548,303h1v1h-1zM995,303h1v1h-1zM548,304h1v1h-1zM996,304h2v1h-2zM539,305h9v1h-9zM998,305h2v1h-2zM537,306h2v1h-2zM1000,306h1v1h-1zM536,307h1v1h-1zM1001,307h2v1h-2zM534,308h2v1h-2zM1003,308h3v1h-3zM532,309h2v1h-2zM1006,309h4v1h-4zM531,310h1v1h-1zM1010,310h2v1h-2zM531,311h1v1h-1zM1011,311h1v1h-1zM531,312h1v1h-1zM1012,312h1v1h-1zM530,313h1v1h-1zM1012,313h1v1h-1zM530,314h1v1h-1zM1012,314h1v1h-1zM530,315h1v1h-1zM1012,315h1v1h-1zM530,316h1v1h-1zM1013,316h1v1h-1zM529,317h1v1h-1zM1013,317h1v1h-1zM529,318h1v1h-1zM1013,318h1v1h-1zM529,319h1v1h-1zM1014,319h1v1h-1zM529,320h1v1h-1zM1014,320h1v1h-1zM529,321h1v1h-1zM1014,321h1v1h-1zM528,322h1v1h-1zM1015,322h1v1h-1zM528,323h1v1h-1zM1015,323h1v1h-1zM528,324h1v1h-1zM1015,324h1v1h-1zM528,325h1v1h-1zM1015,325h1v1h-1zM527,326h1v1h-1zM1016,326h1v1h-1zM527,327h1v1h-1zM1016,327h1v1h-1zM527,328h1v1h-1zM1016,328h1v1h-1zM527,329h1v1h-1zM1017,329h1v1h-1zM527,330h1v1h-1zM1017,330h1v1h-1zM526,331h1v1h-1zM1017,331h1v1h-1zM526,332h1v1h-1zM1018,332h1v1h-1zM526,333h1v1h-1zM1018,333h1v1h-1zM526,334h1v1h-1zM1018,334h1v1h-1zM525,335h1v1h-1zM1018,335h1v1h-1zM525,336h1v1h-1zM1019,336h1v1h-1zM525,337h1v1h-1zM1019,337h1v1h-1zM525,338h1v1h-1zM1019,338h1v1h-1zM525,339h1v1h-1zM1019,339h1v1h-1zM524,340h1v1h-1zM1020,340h1v1h-1zM524,341h1v1h-1zM1020,341h1v1h-1zM524,342h1v1h-1zM1020,342h1v1h-1zM524,343h1v1h-1zM1020,343h1v1h-1zM523,344h1v1h-1zM1021,344h1v1h-1zM523,345h1v1h-1zM1021,345h1v1h-1zM522,346h2v1h-2zM1021,346h1v1h-1zM520,347h2v1h-2zM1021,347h1v1h-1zM517,348h3v1h-3zM1021,348h1v1h-1zM499,349h18v1h-18zM1022,349h1v1h-1zM498,350h1v1h-1zM1022,350h1v1h-1zM498,351h1v1h-1zM1022,351h1v1h-1zM497,352h1v1h-1zM1022,352h1v1h-1zM497,353h1v1h-1zM1022,353h1v1h-1zM496,354h1v1h-1zM1023,354h1v1h-1zM495,355h1v1h-1zM1023,355h1v1h-1zM495,356h1v1h-1zM1023,356h1v1h-1zM494,357h1v1h-1zM1023,357h1v1h-1zM493,358h1v1h-1zM1024,358h1v1h-1zM1107,358h1v1h-1zM493,359h1v1h-1zM1024,359h1v1h-1zM1106,359h2v1h-2zM492,360h1v1h-1zM1024,360h1v1h-1zM1106,360h1v1h-1zM1108,360h1v1h-1zM492,361h1v1h-1zM1024,361h1v1h-1zM1105,361h1v1h-1zM1108,361h1v1h-1zM491,362h1v1h-1zM1024,362h1v1h-1zM1105,362h1v1h-1zM1108,362h1v1h-1zM490,363h1v1h-1zM1025,363h1v1h-1zM1104,363h1v1h-1zM1108,363h1v1h-1zM490,364h1v1h-1zM1025,364h1v1h-1zM1104,364h1v1h-1zM1109,364h1v1h-1zM489,365h1v1h-1zM1025,365h1v1h-1zM1103,365h1v1h-1zM1109,365h1v1h-1zM489,366h1v1h-1zM1025,366h1v1h-1zM1103,366h1v1h-1zM1109,366h1v1h-1zM488,367h1v1h-1zM1025,367h1v1h-1zM1102,367h1v1h-1zM1110,367h1v1h-1zM487,368h1v1h-1zM1026,368h1v1h-1zM1102,368h1v1h-1zM1110,368h1v1h-1zM487,369h1v1h-1zM1026,369h1v1h-1zM1101,369h1v1h-1zM1110,369h1v1h-1zM486,370h1v1h-1zM1026,370h1v1h-1zM1101,370h1v1h-1zM1110,370h1v1h-1zM485,371h1v1h-1zM1026,371h1v1h-1zM1100,371h1v1h-1zM1111,371h1v1h-1zM485,372h1v1h-1zM1027,372h1v1h-1zM1100,372h1v1h-1zM1111,372h1v1h-1zM320,373h4v1h-4zM484,373h1v1h-1zM1027,373h1v1h-1zM1099,373h1v1h-1zM1111,373h1v1h-1zM315,374h5v1h-5zM324,374h1v1h-1zM484,374h1v1h-1zM1027,374h73v1h-73zM1112,374h1v1h-1zM314,375h1v1h-1zM324,375h1v1h-1zM443,375h41v1h-41zM1112,375h1v1h-1zM312,376h2v1h-2zM325,376h1v1h-1zM442,376h1v1h-1zM1112,376h1v1h-1zM311,377h1v1h-1zM325,377h1v1h-1zM442,377h1v1h-1zM1112,377h1v1h-1zM310,378h1v1h-1zM326,378h1v1h-1zM441,378h1v1h-1zM1113,378h1v1h-1zM308,379h2v1h-2zM326,379h1v1h-1zM441,379h1v1h-1zM1113,379h1v1h-1zM307,380h1v1h-1zM327,380h1v1h-1zM440,380h1v1h-1zM1113,380h1v1h-1zM307,381h1v1h-1zM327,381h1v1h-1zM440,381h1v1h-1zM1114,381h1v1h-1zM306,382h1v1h-1zM328,382h1v1h-1zM439,382h1v1h-1zM1114,382h1v1h-1zM306,383h1v1h-1zM328,383h1v1h-1zM439,383h1v1h-1zM1114,383h1v1h-1zM305,384h1v1h-1zM329,384h1v1h-1zM438,384h1v1h-1zM1114,384h1v1h-1zM305,385h1v1h-1zM329,385h1v1h-1zM438,385h1v1h-1zM1115,385h1v1h-1zM304,386h1v1h-1zM330,386h1v1h-1zM437,386h1v1h-1zM1115,386h1v1h-1zM304,387h1v1h-1zM330,387h1v1h-1zM437,387h1v1h-1zM1115,387h1v1h-1zM303,388h1v1h-1zM331,388h19v1h-19zM436,388h1v1h-1zM1116,388h1v1h-1zM303,389h1v1h-1zM350,389h4v1h-4zM436,389h1v1h-1zM1116,389h1v1h-1zM302,390h1v1h-1zM354,390h82v1h-82zM1116,390h1v1h-1zM302,391h1v1h-1zM1117,391h1v1h-1zM301,392h1v1h-1zM1117,392h1v1h-1zM301,393h1v1h-1zM1118,393h1v1h-1zM300,394h1v1h-1zM1118,394h1v1h-1zM300,395h1v1h-1zM1118,395h1v1h-1zM299,396h1v1h-1zM1119,396h1v1h-1zM299,397h1v1h-1zM1119,397h1v1h-1zM299,398h1v1h-1zM1119,398h1v1h-1zM298,399h1v1h-1zM1120,399h1v1h-1zM298,400h1v1h-1zM1120,400h1v1h-1zM297,401h1v1h-1zM1120,401h1v1h-1zM297,402h1v1h-1zM1121,402h1v1h-1zM296,403h1v1h-1zM1121,403h1v1h-1zM296,404h1v1h-1zM1122,404h1v1h-1zM295,405h1v1h-1zM1122,405h1v1h-1zM295,406h1v1h-1zM1122,406h1v1h-1zM1202,406h2v1h-2zM295,407h1v1h-1zM1123,407h1v1h-1zM1198,407h4v1h-4zM294,408h1v1h-1zM1123,408h75v1h-75zM294,409h1v1h-1zM293,410h1v1h-1zM293,411h1v1h-1zM292,412h1v1h-1zM292,413h1v1h-1zM291,414h1v1h-1zM275,415h17v1h-17zM274,416h1v1h-1zM274,417h1v1h-1zM273,418h1v1h-1zM272,419h1v1h-1zM272,420h1v1h-1zM271,421h1v1h-1zM270,422h1v1h-1zM270,423h1v1h-1zM269,424h1v1h-1zM268,425h1v1h-1zM268,426h1v1h-1zM266,427h2v1h-2zM262,428h4v1h-4zM235,429h27v1h-27zM234,430h1v1h-1zM234,431h1v1h-1zM233,432h1v1h-1zM232,433h1v1h-1zM231,434h1v1h-1zM231,435h1v1h-1zM230,436h1v1h-1zM229,437h1v1h-1zM228,438h1v1h-1zM228,439h1v1h-1zM219,440h9v1h-9zM218,441h1v1h-1zM217,442h1v1h-1zM216,443h1v1h-1zM215,444h1v1h-1zM215,445h1v1h-1zM214,446h1v1h-1zM213,447h1v1h-1zM67,448h1v1h-1zM212,448h1v1h-1zM67,449h2v1h-2zM203,449h9v1h-9zM66,450h1v1h-1zM68,450h1v1h-1zM202,450h1v1h-1zM66,451h1v1h-1zM69,451h1v1h-1zM202,451h1v1h-1zM65,452h1v1h-1zM70,452h1v1h-1zM201,452h1v1h-1zM65,453h1v1h-1zM70,453h1v1h-1zM201,453h1v1h-1zM64,454h1v1h-1zM71,454h1v1h-1zM200,454h1v1h-1zM64,455h1v1h-1zM72,455h1v1h-1zM200,455h1v1h-1zM63,456h1v1h-1zM72,456h1v1h-1zM199,456h1v1h-1zM63,457h1v1h-1zM73,457h1v1h-1zM199,457h1v1h-1zM62,458h1v1h-1zM74,458h1v1h-1zM198,458h1v1h-1zM62,459h1v1h-1zM74,459h1v1h-1zM198,459h1v1h-1zM61,460h1v1h-1zM75,460h3v1h-3zM197,460h1v1h-1zM61,461h1v1h-1zM78,461h4v1h-4zM197,461h1v1h-1zM60,462h1v1h-1zM82,462h6v1h-6zM196,462h1v1h-1zM60,463h1v1h-1zM88,463h4v1h-4zM196,463h1v1h-1zM59,464h1v1h-1zM91,464h1v1h-1zM195,464h1v1h-1zM58,465h2v1h-2zM91,465h1v1h-1zM195,465h1v1h-1zM54,466h4v1h-4zM92,466h1v1h-1zM195,466h1v1h-1zM48,467h6v1h-6zM92,467h1v1h-1zM195,467h1v1h-1zM40,468h8v1h-8zM92,468h1v1h-1zM194,468h1v1h-1zM35,469h5v1h-5zM92,469h1v1h-1zM194,469h1v1h-1zM34,470h1v1h-1zM93,470h1v1h-1zM194,470h1v1h-1zM33,471h1v1h-1zM93,471h1v1h-1zM194,471h1v1h-1zM32,472h1v1h-1zM93,472h1v1h-1zM193,472h1v1h-1zM31,473h1v1h-1zM93,473h1v1h-1zM193,473h1v1h-1zM30,474h1v1h-1zM94,474h1v1h-1zM193,474h1v1h-1zM29,475h1v1h-1zM94,475h1v1h-1zM193,475h1v1h-1zM28,476h1v1h-1zM94,476h1v1h-1zM193,476h1v1h-1zM11,477h17v1h-17zM94,477h1v1h-1zM192,477h1v1h-1zM9,478h2v1h-2zM95,478h1v1h-1zM192,478h1v1h-1zM8,479h1v1h-1zM95,479h1v1h-1zM192,479h1v1h-1zM6,480h2v1h-2zM95,480h1v1h-1zM192,480h1v1h-1zM4,481h2v1h-2zM95,481h1v1h-1zM192,481h1v1h-1zM3,482h1v1h-1zM96,482h1v1h-1zM191,482h1v1h-1zM96,483h1v1h-1zM191,483h1v1h-1zM96,484h1v1h-1zM191,484h1v1h-1zM96,485h1v1h-1zM191,485h1v1h-1zM97,486h1v1h-1zM190,486h1v1h-1zM97,487h1v1h-1zM190,487h1v1h-1zM97,488h1v1h-1zM190,488h1v1h-1zM97,489h1v1h-1zM190,489h1v1h-1zM98,490h1v1h-1zM190,490h1v1h-1zM98,491h1v1h-1zM189,491h1v1h-1zM98,492h1v1h-1zM189,492h1v1h-1zM98,493h1v1h-1zM189,493h1v1h-1zM99,494h1v1h-1zM189,494h1v1h-1zM99,495h1v1h-1zM189,495h1v1h-1zM100,496h1v1h-1zM188,496h1v1h-1zM101,497h1v1h-1zM188,497h1v1h-1zM102,498h1v1h-1zM188,498h1v1h-1zM103,499h1v1h-1zM188,499h1v1h-1zM103,500h1v1h-1zM187,500h1v1h-1zM104,501h1v1h-1zM187,501h1v1h-1zM105,502h1v1h-1zM186,502h2v1h-2zM106,503h1v1h-1zM182,503h4v1h-4zM107,504h75v1h-75z" fill="#0000ff" shape-rendering="crispEdges"/>
<g fill="#dc143c" shape-rendering="crispEdges">
<rect x="2" y="481" width="3" height="3"/><rect x="3" y="480" width="1" height="1"/>
<rect x="10" y="479" width="3" height="3"/><rect x="11" y="478" width="1" height="1"/>
<rect x="18" y="473" width="3" height="3"/><rect x="19" y="472" width="1" height="1"/>
<rect x="26" y="469" width="3" height="3"/><rect x="27" y="468" width="1" height="1"/>
<rect x="34" y="465" width="3" height="3"/><rect x="35" y="464" width="1" height="1"/>
<rect x="42" y="462" width="3" height="3"/><rect x="43" y="461" width="1" height="1"/>
<rect x="50" y="459" width="3" height="3"/><rect x="51" y="458" width="1" height="1"/>
<rect x="58" y="455" width="3" height="3"/><rect x="59" y="454" width="1" height="1"/>
<rect x="66" y="452" width="3" height="3"/><rect x="67" y="451" width="1" height="1"/>
<rect x="74" y="404" width="3" height="3"/><rect x="75" y="403" width="1" height="1"/>
<rect x="82" y="405" width="3" height="3"/><rect x="83" y="404" width="1" height="1"/>
<rect x="90" y="407" width="3" height="3"/><rect x="91" y="406" width="1" height="1"/>
<rect x="98" y="410" width="3" height="3"/><rect x="99" y="409" width="1" height="1"/>
<rect x="106" y="417" width="3" height="3"/><rect x="107" y="416" width="1" height="1"/>
<rect x="114" y="426" width="3" height="3"/><rect x="115" y="425" width="1" height="1"/>
<rect x="122" y="503" width="3" height="3"/><rect x="123" y="502" width="1" height="1"/>
<rect x="130" y="501" width="3" height="3"/><rect x="131" y="500" width="1" height="1"/>
<rect x="138" y="497" width="3" height="3"/><rect x="139" y="496" width="1" height="1"/>
<rect x="146" y="491" width="3" height="3"/><rect x="147" y="490" width="1" height="1"/>
<rect x="154" y="485" width="3" height="3"/><rect x="155" y="484" width="1" height="1"/>
<rect x="162" y="481" width="3" height="3"/><rect x="163" y="480" width="1" height="1"/>
<rect x="170" y="475" width="3" height="3"/><rect x="171" y="474" width="1" height="1"/>
<rect x="178" y="467" width="3" height="3"/><rect x="179" y="466" width="1" height="1"/>
<rect x="186" y="459" width="3" height="3"/><rect x="187" y="458" width="1" height="1"/>
<rect x="194" y="452" width="3" height="3"/><rect x="195" y="451" width="1" height="1"/>
<rect x="202" y="446" width="3" height="3"/><rect x="203" y="445" width="1" height="1"/>
<rect x="210" y="440" width="3" height="3"/><rect x="211" y="439" width="1" height="1"/>
<rect x="218" y="435" width="3" height="3"/><rect x="219" y="434" width="1" height="1"/>
<rect x="226" y="430" width="3" height="3"/><rect x="227" y="429" width="1" height="1"/>
<rect x="234" y="426" width="3" height="3"/><rect x="235" y="425" width="1" height="1"/>
<rect x="242" y="418" width="3" height="3"/><rect x="243" y="417" width="1" height="1"/>
<rect x="250" y="412" width="3" height="3"/><rect x="251" y="411" width="1" height="1"/>
<rect x="258" y="404" width="3" height="3"/><rect x="259" y="403" width="1" height="1"/>
<rect x="266" y="395" width="3" height="3"/><rect x="267" y="394" width="1" height="1"/>
<rect x="274" y="384" width="3" height="3"/><rect x="275" y="383" width="1" height="1"/>
<rect x="282" y="372" width="3" height="3"/><rect x="283" y="371" width="1" height="1"/>
<rect x="290" y="359" width="3" height="3"/><rect x="291" y="358" width="1" height="1"/>
<rect x="298" y="337" width="3" height="3"/><rect x="299" y="336" width="1" height="1"/>
<rect x="306" y="318" width="3" height="3"/><rect x="307" y="317" width="1" height="1"/>
<rect x="314" y="238" width="3" height="3"/><rect x="315" y="237" width="1" height="1"/>
<rect x="322" y="241" width="3" height="3"/><rect x="323" y="240" width="1" height="1"/>
<rect x="330" y="246" width="3" height="3"/><rect x="331" y="245" width="1" height="1"/>
<rect x="338" y="254" width="3" height="3"/><rect x="339" y="253" width="1" height="1"/>
<rect x="346" y="262" width="3" height="3"/><rect x="347" y="261" width="1" height="1"/>
<rect x="354" y="270" width="3" height="3"/><rect x="355" y="269" width="1" height="1"/>
<rect x="362" y="280" width="3" height="3"/><rect x="363" y="279" width="1" height="1"/>
<rect x="370" y="288" width="3" height="3"/><rect x="371" y="287" width="1" height="1"/>
<rect x="378" y="295" width="3" height="3"/><rect x="379" y="294" width="1" height="1"/>
<rect x="386" y="304" width="3" height="3"/><rect x="387" y="303" width="1" height="1"/>
<rect x="394" y="311" width="3" height="3"/><rect x="395" y="310" width="1" height="1"/>
<rect x="402" y="317" width="3" height="3"/><rect x="403" y="316" width="1" height="1"/>
<rect x="410" y="323" width="3" height="3"/><rect x="411" y="322" width="1" height="1"/>
<rect x="418" y="390" width="3" height="3"/><rect x="419" y="389" width="1" height="1"/>
<rect x="426" y="388" width="3" height="3"/><rect x="427" y="387" width="1" height="1"/>
<rect x="434" y="384" width="3" height="3"/><rect x="435" y="383" width="1" height="1"/>
<rect x="442" y="377" width="3" height="3"/><rect x="443" y="376" width="1" height="1"/>
<rect x="450" y="371" width="3" height="3"/><rect x="451" y="370" width="1" height="1"/>
<rect x="458" y="365" width="3" height="3"/><rect x="459" y="364" width="1" height="1"/>
<rect x="466" y="357" width="3" height="3"/><rect x="467" y="356" width="1" height="1"/>
<rect x="474" y="350" width="3" height="3"/><rect x="475" y="349" width="1" height="1"/>
<rect x="482" y="343" width="3" height="3"/><rect x="483" y="342" width="1" height="1"/>
<rect x="490" y="337" width="3" height="3"/><rect x="491" y="336" width="1" height="1"/>
<rect x="498" y="329" width="3" height="3"/><rect x="499" y="328" width="1" height="1"/>
<rect x="506" y="310" width="3" height="3"/><rect x="507" y="309" width="1" height="1"/>
<rect x="514" y="294" width="3" height="3"/><rect x="515" y="293" width="1" height="1"/>
<rect x="522" y="289" width="3" height="3"/><rect x="523" y="288" width="1" height="1"/>
<rect x="530" y="283" width="3" height="3"/><rect x="531" y="282" width="1" height="1"/>
<rect x="538" y="270" width="3" height="3"/><rect x="539" y="269" width="1" height="1"/>
<rect x="546" y="254" width="3" height="3"/><rect x="547" y="253" width="1" height="1"/>
<rect x="554" y="230" width="3" height="3"/><rect x="555" y="229" width="1" height="1"/>
<rect x="562" y="210" width="3" height="3"/><rect x="563" y="209" width="1" height="1"/>
<rect x="570" y="189" width="3" height="3"/><rect x="571" y="188" width="1" height="1"/>
<rect x="578" y="171" width="3" height="3"/><rect x="579" y="170" width="1" height="1"/>
<rect x="586" y="86" width="3" height="3"/><rect x="587" y="85" width="1" height="1"/>
<rect x="594" y="90" width="3" height="3"/><rect x="595" y="89" width="1" height="1"/>
<rect x="602" y="96" width="3" height="3"/><rect x="603" y="95" width="1" height="1"/>
<rect x="610" y="103" width="3" height="3"/><rect x="611" y="102" width="1" height="1"/>
<rect x="618" y="109" width="3" height="3"/><rect x="619" y="108" width="1" height="1"/>
<rect x="626" y="115" width="3" height="3"/><rect x="627" y="114" width="1" height="1"/>
<rect x="634" y="121" width="3" height="3"/><rect x="635" y="120" width="1" height="1"/>
<rect x="642" y="261" width="3" height="3"/><rect x="643" y="260" width="1" height="1"/>
<rect x="650" y="258" width="3" height="3"/><rect x="651" y="257" width="1" height="1"/>
<rect x="658" y="252" width="3" height="3"/><rect x="659" y="251" width="1" height="1"/>
<rect x="666" y="247" width="3" height="3"/><rect x="667" y="246" width="1" height="1"/>
<rect x="674" y="242" width="3" height="3"/><rect x="675" y="241" width="1" height="1"/>
<rect x="682" y="237" width="3" height="3"/><rect x="683" y="236" width="1" height="1"/>
<rect x="690" y="232" width="3" height="3"/><rect x="691" y="231" width="1" height="1"/>
<rect x="698" y="227" width="3" height="3"/><rect x="699" y="226" width="1" height="1"/>
<rect x="706" y="223" width="3" height="3"/><rect x="707" y="222" width="1" height="1"/>
<rect x="714" y="219" width="3" height="3"/><rect x="715" y="218" width="1" height="1"/>
<rect x="722" y="215" width="3" height="3"/><rect x="723" y="214" width="1" height="1"/>
<rect x="730" y="204" width="3" height="3"/><rect x="731" y="203" width="1" height="1"/>
<rect x="738" y="193" width="3" height="3"/><rect x="739" y="192" width="1" height="1"/>
<rect x="746" y="183" width="3" height="3"/><rect x="747" y="182" width="1" height="1"/>
<rect x="754" y="174" width="3" height="3"/><rect x="755" y="173" width="1" height="1"/>
<rect x="762" y="27" width="3" height="3"/><rect x="763" y="26" width="1" height="1"/>
<rect x="770" y="31" width="3" height="3"/><rect x="771" y="30" width="1" height="1"/>
<rect x="778" y="34" width="3" height="3"/><rect x="779" y="33" width="1" height="1"/>
<rect x="786" y="36" width="3" height="3"/><rect x="787" y="35" width="1" height="1"/>
<rect x="794" y="38" width="3" height="3"/><rect x="795" y="37" width="1" height="1"/>
<rect x="802" y="41" width="3" height="3"/><rect x="803" y="40" width="1" height="1"/>
<rect x="810" y="47" width="3" height="3"/><rect x="811" y="46" width="1" height="1"/>
<rect x="818" y="52" width="3" height="3"/><rect x="819" y="51" width="1" height="1"/>
<rect x="826" y="58" width="3" height="3"/><rect x="827" y="57" width="1" height="1"/>
<rect x="834" y="63" width="3" height="3"/><rect x="835" y="62" width="1" height="1"/>
<rect x="842" y="68" width="3" height="3"/><rect x="843" y="67" width="1" height="1"/>
<rect x="850" y="72" width="3" height="3"/><rect x="851" y="71" width="1" height="1"/>
<rect x="858" y="76" width="3" height="3"/><rect x="859" y="75" width="1" height="1"/>
<rect x="866" y="76" width="3" height="3"/><rect x="867" y="75" width="1" height="1"/>
<rect x="874" y="80" width="3" height="3"/><rect x="875" y="79" width="1" height="1"/>
<rect x="882" y="85" width="3" height="3"/><rect x="883" y="84" width="1" height="1"/>
<rect x="890" y="90" width="3" height="3"/><rect x="891" y="89" width="1" height="1"/>
<rect x="898" y="92" width="3" height="3"/><rect x="899" y="91" width="1" height="1"/>
<rect x="906" y="96" width="3" height="3"/><rect x="907" y="95" width="1" height="1"/>
<rect x="914" y="100" width="3" height="3"/><rect x="915" y="99" width="1" height="1"/>
<rect x="922" y="107" width="3" height="3"/><rect x="923" y="106" width="1" height="1"/>
<rect x="930" y="114" width="3" height="3"/><rect x="931" y="113" width="1" height="1"/>
<rect x="938" y="120" width="3" height="3"/><rect x="939" y="119" width="1" height="1"/>
<rect x="946" y="126" width="3" height="3"/><rect x="947" y="125" width="1" height="1"/>
<rect x="954" y="132" width="3" height="3"/><rect x="955" y="131" width="1" height="1"/>
<rect x="962" y="139" width="3" height="3"/><rect x="963" y="138" width="1" height="1"/>
<rect x="970" y="148" width="3" height="3"/><rect x="971" y="147" width="1" height="1"/>
<rect x="978" y="161" width="3" height="3"/><rect x="979" y="160" width="1" height="1"/>
<rect x="986" y="176" width="3" height="3"/><rect x="987" y="175" width="1" height="1"/>
<rect x="994" y="193" width="3" height="3"/><rect x="995" y="192" width="1" height="1"/>
<rect x="1002" y="213" width="3" height="3"/><rect x="1003" y="212" width="1" height="1"/>
<rect x="1010" y="232" width="3" height="3"/><rect x="1011" y="231" width="1" height="1"/>
<rect x="1018" y="247" width="3" height="3"/><rect x="1019" y="246" width="1" height="1"/>
<rect x="1026" y="266" width="3" height="3"/><rect x="1027" y="265" width="1" height="1"/>
<rect x="1034" y="287" width="3" height="3"/><rect x="1035" y="286" width="1" height="1"/>
<rect x="1042" y="303" width="3" height="3"/><rect x="1043" y="302" width="1" height="1"/>
<rect x="1050" y="374" width="3" height="3"/><rect x="1051" y="373" width="1" height="1"/>
<rect x="1058" y="372" width="3" height="3"/><rect x="1059" y="371" width="1" height="1"/>
<rect x="1066" y="368" width="3" height="3"/><rect x="1067" y="367" width="1" height="1"/>
<rect x="1074" y="364" width="3" height="3"/><rect x="1075" y="363" width="1" height="1"/>
<rect x="1082" y="360" width="3" height="3"/><rect x="1083" y="359" width="1" height="1"/>
<rect x="1090" y="357" width="3" height="3"/><rect x="1091" y="356" width="1" height="1"/>
<rect x="1098" y="353" width="3" height="3"/><rect x="1099" y="352" width="1" height="1"/>
<rect x="1106" y="269" width="3" height="3"/><rect x="1107" y="268" width="1" height="1"/>
<rect x="1114" y="271" width="3" height="3"/><rect x="1115" y="270" width="1" height="1"/>
<rect x="1122" y="275" width="3" height="3"/><rect x="1123" y="274" width="1" height="1"/>
<rect x="1130" y="283" width="3" height="3"/><rect x="1131" y="282" width="1" height="1"/>
<rect x="1138" y="291" width="3" height="3"/><rect x="1139" y="290" width="1" height="1"/>
<rect x="1146" y="298" width="3" height="3"/><rect x="1147" y="297" width="1" height="1"/>
<rect x="1154" y="304" width="3" height="3"/><rect x="1155" y="303" width="1" height="1"/>
<rect x="1162" y="310" width="3" height="3"/><rect x="1163" y="309" width="1" height="1"/>
<rect x="1170" y="407" width="3" height="3"/><rect x="1171" y="406" width="1" height="1"/>
<rect x="1178" y="404" width="3" height="3"/><rect x="1179" y="403" width="1" height="1"/>
<rect x="1186" y="398" width="3" height="3"/><rect x="1187" y="397" width="1" height="1"/>
<rect x="1194" y="391" width="3" height="3"/><rect x="1195" y="390" width="1" height="1"/>
<rect x="1202" y="381" width="3" height="3"/><rect x="1203" y="380" width="1" height="1"/>
</g>
<path d="M11.3,390.8 L5.200000000000001,400.6 L11.3,397.2 Z" fill="#dc143c" stroke="#dc143c" stroke-width="0.35"/>
<path d="M11.3,390.8 L17.1,400.5 L11.3,397.2" fill="none" stroke="#f3a6b5" stroke-width="0.9"/>
<path d="M139.3,379.8 L133.20000000000002,389.6 L139.3,386.2 Z" fill="#dc143c" stroke="#dc143c" stroke-width="0.35"/>
<path d="M139.3,379.8 L145.10000000000002,389.5 L139.3,386.2" fill="none" stroke="#f3a6b5" stroke-width="0.9"/>
<path d="M171.3,360.3 L165.20000000000002,370.1 L171.3,366.7 Z" fill="#dc143c" stroke="#dc143c" stroke-width="0.35"/>
<path d="M171.3,360.3 L177.10000000000002,370.0 L171.3,366.7" fill="none" stroke="#f3a6b5" stroke-width="0.9"/>
<path d="M203.3,363.1 L197.20000000000002,372.90000000000003 L203.3,369.5 Z" fill="#dc143c" stroke="#dc143c" stroke-width="0.35"/>
<path d="M203.3,363.1 L209.10000000000002,372.8 L203.3,369.5" fill="none" stroke="#f3a6b5" stroke-width="0.9"/>
<path d="M299.3,223.8 L293.2,233.60000000000002 L299.3,230.20000000000002 Z" fill="#dc143c" stroke="#dc143c" stroke-width="0.35"/>
<path d="M299.3,223.8 L305.1,233.5 L299.3,230.20000000000002" fill="none" stroke="#f3a6b5" stroke-width="0.9"/>
<path d="M395.3,312.8 L389.2,322.6 L395.3,319.2 Z" fill="#dc143c" stroke="#dc143c" stroke-width="0.35"/>
<path d="M395.3,312.8 L401.1,322.5 L395.3,319.2" fill="none" stroke="#f3a6b5" stroke-width="0.9"/>
<path d="M435.3,260.1 L429.2,269.90000000000003 L435.3,266.5 Z" fill="#dc143c" stroke="#dc143c" stroke-width="0.35"/>
<path d="M435.3,260.1 L441.1,269.8 L435.3,266.5" fill="none" stroke="#f3a6b5" stroke-width="0.9"/>
<path d="M459.3,252.5 L453.2,262.3 L459.3,258.9 Z" fill="#dc143c" stroke="#dc143c" stroke-width="0.35"/>
<path d="M459.3,252.5 L465.1,262.2 L459.3,258.9" fill="none" stroke="#f3a6b5" stroke-width="0.9"/>
<path d="M499.3,162.10000000000002 L493.2,171.90000000000003 L499.3,168.50000000000003 Z" fill="#dc143c" stroke="#dc143c" stroke-width="0.35"/>
<path d="M499.3,162.10000000000002 L505.1,171.8 L499.3,168.50000000000003" fill="none" stroke="#f3a6b5" stroke-width="0.9"/>
<path d="M563.3,71.8 L557.1999999999999,81.6 L563.3,78.2 Z" fill="#dc143c" stroke="#dc143c" stroke-width="0.35"/>
<path d="M563.3,71.8 L569.0999999999999,81.5 L563.3,78.2" fill="none" stroke="#f3a6b5" stroke-width="0.9"/>
<path d="M651.3,105.5 L645.1999999999999,115.3 L651.3,111.9 Z" fill="#dc143c" stroke="#dc143c" stroke-width="0.35"/>
<path d="M651.3,105.5 L657.0999999999999,115.2 L651.3,111.9" fill="none" stroke="#f3a6b5" stroke-width="0.9"/>
<path d="M723.3,12.9 L717.1999999999999,22.700000000000003 L723.3,19.3 Z" fill="#dc143c" stroke="#dc143c" stroke-width="0.35"/>
<path d="M723.3,12.9 L729.0999999999999,22.6 L723.3,19.3" fill="none" stroke="#f3a6b5" stroke-width="0.9"/>
<path d="M747.3,18.8 L741.1999999999999,28.6 L747.3,25.200000000000003 Z" fill="#dc143c" stroke="#dc143c" stroke-width="0.35"/>
<path d="M747.3,18.8 L753.0999999999999,28.5 L747.3,25.200000000000003" fill="none" stroke="#f3a6b5" stroke-width="0.9"/>
<path d="M779.3,74.3 L773.1999999999999,84.1 L779.3,80.7 Z" fill="#dc143c" stroke="#dc143c" stroke-width="0.35"/>
<path d="M779.3,74.3 L785.0999999999999,84.0 L779.3,80.7" fill="none" stroke="#f3a6b5" stroke-width="0.9"/>
<path d="M851.3,61.9 L845.1999999999999,71.7 L851.3,68.3 Z" fill="#dc143c" stroke="#dc143c" stroke-width="0.35"/>
<path d="M851.3,61.9 L857.0999999999999,71.6 L851.3,68.3" fill="none" stroke="#f3a6b5" stroke-width="0.9"/>
<path d="M947.3,144.3 L941.1999999999999,154.10000000000002 L947.3,150.70000000000002 Z" fill="#dc143c" stroke="#dc143c" stroke-width="0.35"/>
<path d="M947.3,144.3 L953.0999999999999,154.0 L947.3,150.70000000000002" fill="none" stroke="#f3a6b5" stroke-width="0.9"/>
<path d="M1059.3,254.5 L1053.2,264.3 L1059.3,260.9 Z" fill="#dc143c" stroke="#dc143c" stroke-width="0.35"/>
<path d="M1059.3,254.5 L1065.1,264.2 L1059.3,260.9" fill="none" stroke="#f3a6b5" stroke-width="0.9"/>
<path d="M27.5,458.0 L33.6,448.2 L27.5,451.6 Z" fill="#dc143c" stroke="#dc143c" stroke-width="0.35"/>
<path d="M27.5,458.0 L21.7,448.3 L27.5,451.6" fill="none" stroke="#f3a6b5" stroke-width="0.9"/>
<path d="M107.5,517.5 L113.6,507.7 L107.5,511.1 Z" fill="#dc143c" stroke="#dc143c" stroke-width="0.35"/>
<path d="M107.5,517.5 L101.7,507.8 L107.5,511.1" fill="none" stroke="#f3a6b5" stroke-width="0.9"/>
<path d="M187.5,442.5 L193.6,432.7 L187.5,436.1 Z" fill="#dc143c" stroke="#dc143c" stroke-width="0.35"/>
<path d="M187.5,442.5 L181.7,432.8 L187.5,436.1" fill="none" stroke="#f3a6b5" stroke-width="0.9"/>
<path d="M219.5,428.3 L225.6,418.5 L219.5,421.90000000000003 Z" fill="#dc143c" stroke="#dc143c" stroke-width="0.35"/>
<path d="M219.5,428.3 L213.7,418.6 L219.5,421.90000000000003" fill="none" stroke="#f3a6b5" stroke-width="0.9"/>
<path d="M331.5,401.1 L337.6,391.3 L331.5,394.70000000000005 Z" fill="#dc143c" stroke="#dc143c" stroke-width="0.35"/>
<path d="M331.5,401.1 L325.7,391.40000000000003 L331.5,394.70000000000005" fill="none" stroke="#f3a6b5" stroke-width="0.9"/>
<path d="M363.5,404.1 L369.6,394.3 L363.5,397.70000000000005 Z" fill="#dc143c" stroke="#dc143c" stroke-width="0.35"/>
<path d="M363.5,404.1 L357.7,394.40000000000003 L363.5,397.70000000000005" fill="none" stroke="#f3a6b5" stroke-width="0.9"/>
<path d="M411.5,388.5 L417.6,378.7 L411.5,382.1 Z" fill="#dc143c" stroke="#dc143c" stroke-width="0.35"/>
<path d="M411.5,388.5 L405.7,378.8 L411.5,382.1" fill="none" stroke="#f3a6b5" stroke-width="0.9"/>
<path d="M443.5,362.5 L449.6,352.7 L443.5,356.1 Z" fill="#dc143c" stroke="#dc143c" stroke-width="0.35"/>
<path d="M443.5,362.5 L437.7,352.8 L443.5,356.1" fill="none" stroke="#f3a6b5" stroke-width="0.9"/>
<path d="M507.5,303.3 L513.6,293.5 L507.5,296.90000000000003 Z" fill="#dc143c" stroke="#dc143c" stroke-width="0.35"/>
<path d="M507.5,303.3 L501.7,293.6 L507.5,296.90000000000003" fill="none" stroke="#f3a6b5" stroke-width="0.9"/>
<path d="M595.5,275.7 L601.6,265.9 L595.5,269.3 Z" fill="#dc143c" stroke="#dc143c" stroke-width="0.35"/>
<path d="M595.5,275.7 L589.7,266.0 L595.5,269.3" fill="none" stroke="#f3a6b5" stroke-width="0.9"/>
<path d="M675.5,217.4 L681.6,207.6 L675.5,211.0 Z" fill="#dc143c" stroke="#dc143c" stroke-width="0.35"/>
<path d="M675.5,217.4 L669.7,207.70000000000002 L675.5,211.0" fill="none" stroke="#f3a6b5" stroke-width="0.9"/>
<path d="M763.5,188.1 L769.6,178.29999999999998 L763.5,181.7 Z" fill="#dc143c" stroke="#dc143c" stroke-width="0.35"/>
<path d="M763.5,188.1 L757.7,178.4 L763.5,181.7" fill="none" stroke="#f3a6b5" stroke-width="0.9"/>
<path d="M803.5,199.3 L809.6,189.5 L803.5,192.9 Z" fill="#dc143c" stroke="#dc143c" stroke-width="0.35"/>
<path d="M803.5,199.3 L797.7,189.60000000000002 L803.5,192.9" fill="none" stroke="#f3a6b5" stroke-width="0.9"/>
<path d="M867.5,181.3 L873.6,171.5 L867.5,174.9 Z" fill="#dc143c" stroke="#dc143c" stroke-width="0.35"/>
<path d="M867.5,181.3 L861.7,171.60000000000002 L867.5,174.9" fill="none" stroke="#f3a6b5" stroke-width="0.9"/>
<path d="M915.5,235.5 L921.6,225.7 L915.5,229.1 Z" fill="#dc143c" stroke="#dc143c" stroke-width="0.35"/>
<path d="M915.5,235.5 L909.7,225.8 L915.5,229.1" fill="none" stroke="#f3a6b5" stroke-width="0.9"/>
<path d="M1027.5,388.7 L1033.6,378.9 L1027.5,382.3 Z" fill="#dc143c" stroke="#dc143c" stroke-width="0.35"/>
<path d="M1027.5,388.7 L1021.7,379.0 L1027.5,382.3" fill="none" stroke="#f3a6b5" stroke-width="0.9"/>
<path d="M1123.5,421.7 L1129.6,411.9 L1123.5,415.3 Z" fill="#dc143c" stroke="#dc143c" stroke-width="0.35"/>
<path d="M1123.5,421.7 L1117.7,412.0 L1123.5,415.3" fill="none" stroke="#f3a6b5" stroke-width="0.9"/>
<g shape-rendering="crispEdges">
<rect x="107" y="502" width="3" height="1" fill="#ff0000"/>
<rect x="105" y="504" width="1" height="3" fill="#ff0000"/>
<rect x="109" y="504" width="1" height="3" fill="#ff0000"/>
<rect x="415" y="264" width="3" height="1" fill="#ff0000"/>
<rect x="413" y="266" width="1" height="3" fill="#ff0000"/>
<rect x="417" y="266" width="1" height="3" fill="#ff0000"/>
<rect x="723" y="26" width="3" height="1" fill="#ff0000"/>
<rect x="721" y="28" width="1" height="3" fill="#ff0000"/>
<rect x="725" y="28" width="1" height="3" fill="#ff0000"/>
</g>
<path d="M1219.5,219.5 L1227,227 L1223,227 L1223,236.5 L1216,236.5 L1216,227 L1212,227 Z" fill="#fff" stroke="#40ff00" stroke-width="1.2" stroke-linejoin="miter"/>
<g shape-rendering="crispEdges">
<rect x="3" y="584" width="1" height="2" fill="#0000ff"/>
<rect x="11" y="584" width="1" height="1" fill="#0000ff"/>
<rect x="19" y="584" width="1" height="1" fill="#0000ff"/>
<rect x="27" y="581" width="1" height="4" fill="#0000ff"/>
<rect x="35" y="579" width="1" height="6" fill="#0000ff"/>
<rect x="43" y="579" width="1" height="6" fill="#0000ff"/>
<rect x="51" y="579" width="1" height="6" fill="#0000ff"/>
<rect x="59" y="579" width="1" height="6" fill="#0000ff"/>
<rect x="67" y="579" width="1" height="6" fill="#0000ff"/>
<rect x="75" y="583" width="1" height="2" fill="#0000ff"/>
<rect x="83" y="584" width="1" height="1" fill="#0000ff"/>
<rect x="91" y="584" width="1" height="2" fill="#0000ff"/>
<rect x="99" y="584" width="1" height="7" fill="#0000ff"/>
<rect x="107" y="584" width="1" height="11" fill="#0000ff"/>
<rect x="115" y="584" width="1" height="10" fill="#0000ff"/>
<rect x="123" y="584" width="1" height="7" fill="#0000ff"/>
<rect x="131" y="584" width="1" height="1" fill="#0000ff"/>
<rect x="139" y="583" width="1" height="2" fill="#0000ff"/>
<rect x="147" y="582" width="1" height="3" fill="#0000ff"/>
<rect x="155" y="580" width="1" height="5" fill="#0000ff"/>
<rect x="163" y="578" width="1" height="7" fill="#0000ff"/>
<rect x="171" y="574" width="1" height="11" fill="#0000ff"/>
<rect x="179" y="572" width="1" height="13" fill="#0000ff"/>
<rect x="187" y="574" width="1" height="11" fill="#0000ff"/>
<rect x="195" y="572" width="1" height="13" fill="#0000ff"/>
<rect x="203" y="570" width="1" height="15" fill="#0000ff"/>
<rect x="211" y="569" width="1" height="16" fill="#0000ff"/>
<rect x="219" y="569" width="1" height="16" fill="#0000ff"/>
<rect x="227" y="568" width="1" height="17" fill="#0000ff"/>
<rect x="235" y="567" width="1" height="18" fill="#0000ff"/>
<rect x="243" y="566" width="1" height="19" fill="#0000ff"/>
<rect x="251" y="564" width="1" height="21" fill="#0000ff"/>
<rect x="259" y="562" width="1" height="23" fill="#0000ff"/>
<rect x="267" y="560" width="1" height="25" fill="#0000ff"/>
<rect x="275" y="557" width="1" height="28" fill="#0000ff"/>
<rect x="283" y="552" width="1" height="33" fill="#0000ff"/>
<rect x="291" y="547" width="1" height="38" fill="#0000ff"/>
<rect x="299" y="541" width="1" height="44" fill="#0000ff"/>
<rect x="307" y="538" width="1" height="47" fill="#0000ff"/>
<rect x="315" y="543" width="1" height="42" fill="#0000ff"/>
<rect x="323" y="549" width="1" height="36" fill="#0000ff"/>
<rect x="331" y="558" width="1" height="27" fill="#0000ff"/>
<rect x="339" y="560" width="1" height="25" fill="#0000ff"/>
<rect x="347" y="564" width="1" height="21" fill="#0000ff"/>
<rect x="355" y="571" width="1" height="14" fill="#0000ff"/>
<rect x="363" y="573" width="1" height="12" fill="#0000ff"/>
<rect x="371" y="574" width="1" height="11" fill="#0000ff"/>
<rect x="379" y="575" width="1" height="10" fill="#0000ff"/>
<rect x="387" y="574" width="1" height="11" fill="#0000ff"/>
<rect x="395" y="575" width="1" height="10" fill="#0000ff"/>
<rect x="403" y="577" width="1" height="8" fill="#0000ff"/>
<rect x="411" y="579" width="1" height="6" fill="#0000ff"/>
<rect x="419" y="576" width="1" height="9" fill="#0000ff"/>
<rect x="427" y="571" width="1" height="14" fill="#0000ff"/>
<rect x="435" y="568" width="1" height="17" fill="#0000ff"/>
<rect x="443" y="571" width="1" height="14" fill="#0000ff"/>
<rect x="451" y="570" width="1" height="15" fill="#0000ff"/>
<rect x="459" y="567" width="1" height="18" fill="#0000ff"/>
<rect x="467" y="565" width="1" height="20" fill="#0000ff"/>
<rect x="475" y="564" width="1" height="21" fill="#0000ff"/>
<rect x="483" y="562" width="1" height="23" fill="#0000ff"/>
<rect x="491" y="560" width="1" height="25" fill="#0000ff"/>
<rect x="499" y="554" width="1" height="31" fill="#0000ff"/>
<rect x="507" y="556" width="1" height="29" fill="#0000ff"/>
<rect x="515" y="556" width="1" height="29" fill="#0000ff"/>
<rect x="523" y="552" width="1" height="33" fill="#0000ff"/>
<rect x="531" y="551" width="1" height="34" fill="#0000ff"/>
<rect x="539" y="545" width="1" height="40" fill="#0000ff"/>
<rect x="547" y="540" width="1" height="45" fill="#0000ff"/>
<rect x="555" y="537" width="1" height="48" fill="#0000ff"/>
<rect x="563" y="530" width="1" height="55" fill="#0000ff"/>
<rect x="571" y="527" width="1" height="58" fill="#0000ff"/>
<rect x="579" y="529" width="1" height="56" fill="#0000ff"/>
<rect x="587" y="535" width="1" height="50" fill="#0000ff"/>
<rect x="595" y="545" width="1" height="40" fill="#0000ff"/>
<rect x="603" y="551" width="1" height="34" fill="#0000ff"/>
<rect x="611" y="552" width="1" height="33" fill="#0000ff"/>
<rect x="619" y="552" width="1" height="33" fill="#0000ff"/>
<rect x="627" y="551" width="1" height="34" fill="#0000ff"/>
<rect x="635" y="553" width="1" height="32" fill="#0000ff"/>
<rect x="643" y="549" width="1" height="36" fill="#0000ff"/>
<rect x="651" y="548" width="1" height="37" fill="#0000ff"/>
<rect x="659" y="551" width="1" height="34" fill="#0000ff"/>
<rect x="667" y="551" width="1" height="34" fill="#0000ff"/>
<rect x="675" y="556" width="1" height="29" fill="#0000ff"/>
<rect x="683" y="556" width="1" height="29" fill="#0000ff"/>
<rect x="691" y="560" width="1" height="25" fill="#0000ff"/>
<rect x="699" y="561" width="1" height="24" fill="#0000ff"/>
<rect x="707" y="560" width="1" height="25" fill="#0000ff"/>
<rect x="715" y="558" width="1" height="27" fill="#0000ff"/>
<rect x="723" y="553" width="1" height="32" fill="#0000ff"/>
<rect x="731" y="551" width="1" height="34" fill="#0000ff"/>
<rect x="739" y="544" width="1" height="41" fill="#0000ff"/>
<rect x="747" y="541" width="1" height="44" fill="#0000ff"/>
<rect x="755" y="546" width="1" height="39" fill="#0000ff"/>
<rect x="763" y="551" width="1" height="34" fill="#0000ff"/>
<rect x="771" y="555" width="1" height="30" fill="#0000ff"/>
<rect x="779" y="557" width="1" height="28" fill="#0000ff"/>
<rect x="787" y="561" width="1" height="24" fill="#0000ff"/>
<rect x="795" y="561" width="1" height="24" fill="#0000ff"/>
<rect x="803" y="567" width="1" height="18" fill="#0000ff"/>
<rect x="811" y="571" width="1" height="14" fill="#0000ff"/>
<rect x="819" y="571" width="1" height="14" fill="#0000ff"/>
<rect x="827" y="569" width="1" height="16" fill="#0000ff"/>
<rect x="835" y="571" width="1" height="14" fill="#0000ff"/>
<rect x="843" y="567" width="1" height="18" fill="#0000ff"/>
<rect x="851" y="568" width="1" height="17" fill="#0000ff"/>
<rect x="859" y="571" width="1" height="14" fill="#0000ff"/>
<rect x="867" y="575" width="1" height="10" fill="#0000ff"/>
<rect x="875" y="573" width="1" height="12" fill="#0000ff"/>
<rect x="883" y="575" width="1" height="10" fill="#0000ff"/>
<rect x="891" y="574" width="1" height="11" fill="#0000ff"/>
<rect x="899" y="577" width="1" height="8" fill="#0000ff"/>
<rect x="907" y="580" width="1" height="5" fill="#0000ff"/>
<rect x="915" y="584" width="1" height="1" fill="#0000ff"/>
<rect x="923" y="584" width="1" height="5" fill="#0000ff"/>
<rect x="931" y="584" width="1" height="9" fill="#0000ff"/>
<rect x="939" y="584" width="1" height="12" fill="#0000ff"/>
<rect x="947" y="584" width="1" height="13" fill="#0000ff"/>
<rect x="955" y="584" width="1" height="17" fill="#0000ff"/>
<rect x="963" y="584" width="1" height="20" fill="#0000ff"/>
<rect x="971" y="584" width="1" height="25" fill="#0000ff"/>
<rect x="979" y="584" width="1" height="29" fill="#0000ff"/>
<rect x="987" y="584" width="1" height="35" fill="#0000ff"/>
<rect x="995" y="584" width="1" height="37" fill="#0000ff"/>
<rect x="1003" y="584" width="1" height="42" fill="#0000ff"/>
<rect x="1011" y="584" width="1" height="45" fill="#0000ff"/>
<rect x="1019" y="584" width="1" height="50" fill="#0000ff"/>
<rect x="1027" y="584" width="1" height="57" fill="#0000ff"/>
<rect x="1035" y="584" width="1" height="56" fill="#0000ff"/>
<rect x="1043" y="584" width="1" height="58" fill="#0000ff"/>
<rect x="1051" y="584" width="1" height="53" fill="#0000ff"/>
<rect x="1059" y="584" width="1" height="49" fill="#0000ff"/>
<rect x="1067" y="584" width="1" height="46" fill="#0000ff"/>
<rect x="1075" y="584" width="1" height="45" fill="#0000ff"/>
<rect x="1083" y="584" width="1" height="42" fill="#0000ff"/>
<rect x="1091" y="584" width="1" height="43" fill="#0000ff"/>
<rect x="1099" y="584" width="1" height="43" fill="#0000ff"/>
<rect x="1107" y="584" width="1" height="42" fill="#0000ff"/>
<rect x="1115" y="584" width="1" height="45" fill="#0000ff"/>
<rect x="1123" y="584" width="1" height="48" fill="#0000ff"/>
<rect x="1131" y="584" width="1" height="51" fill="#0000ff"/>
<rect x="1139" y="584" width="1" height="50" fill="#0000ff"/>
<rect x="1147" y="584" width="1" height="45" fill="#0000ff"/>
<rect x="1155" y="584" width="1" height="39" fill="#0000ff"/>
<rect x="1163" y="584" width="1" height="36" fill="#0000ff"/>
<rect x="1171" y="584" width="1" height="28" fill="#0000ff"/>
<rect x="1179" y="584" width="1" height="19" fill="#0000ff"/>
<rect x="1187" y="584" width="1" height="11" fill="#0000ff"/>
<rect x="1195" y="584" width="1" height="3" fill="#0000ff"/>
<rect x="1203" y="581" width="1" height="4" fill="#0000ff"/>
</g>
<path d="M585,536h26v1h-26zM583,537h32v1h-32zM580,538h6v1h-6zM610,538h8v1h-8zM577,539h7v1h-7zM614,539h15v1h-15zM575,540h6v1h-6zM617,540h15v1h-15zM573,541h5v1h-5zM628,541h6v1h-6zM571,542h5v1h-5zM631,542h6v1h-6zM568,543h6v1h-6zM633,543h7v1h-7zM566,544h6v1h-6zM636,544h6v1h-6zM564,545h5v1h-5zM639,545h7v1h-7zM561,546h6v1h-6zM641,546h9v1h-9zM559,547h6v1h-6zM645,547h9v1h-9zM321,548h23v1h-23zM556,548h6v1h-6zM649,548h9v1h-9zM318,549h32v1h-32zM553,549h7v1h-7zM653,549h25v1h-25zM767,549h25v1h-25zM315,550h7v1h-7zM343,550h11v1h-11zM551,550h6v1h-6zM657,550h27v1h-27zM759,550h38v1h-38zM311,551h8v1h-8zM349,551h9v1h-9zM548,551h6v1h-6zM677,551h12v1h-12zM751,551h17v1h-17zM791,551h9v1h-9zM308,552h8v1h-8zM353,552h9v1h-9zM545,552h7v1h-7zM683,552h27v1h-27zM745,552h15v1h-15zM796,552h6v1h-6zM305,553h7v1h-7zM357,553h8v1h-8zM541,553h8v1h-8zM688,553h26v1h-26zM741,553h11v1h-11zM799,553h6v1h-6zM303,554h6v1h-6zM361,554h6v1h-6zM537,554h9v1h-9zM709,554h37v1h-37zM801,554h7v1h-7zM301,555h5v1h-5zM364,555h5v1h-5zM533,555h9v1h-9zM713,555h29v1h-29zM804,555h6v1h-6zM299,556h5v1h-5zM366,556h5v1h-5zM528,556h10v1h-10zM807,556h6v1h-6zM296,557h6v1h-6zM368,557h5v1h-5zM523,557h11v1h-11zM809,557h7v1h-7zM294,558h6v1h-6zM370,558h5v1h-5zM517,558h12v1h-12zM812,558h6v1h-6zM292,559h5v1h-5zM372,559h5v1h-5zM513,559h11v1h-11zM815,559h7v1h-7zM289,560h6v1h-6zM374,560h5v1h-5zM509,560h9v1h-9zM817,560h9v1h-9zM285,561h8v1h-8zM376,561h5v1h-5zM505,561h9v1h-9zM821,561h9v1h-9zM281,562h9v1h-9zM378,562h5v1h-5zM501,562h9v1h-9zM825,562h9v1h-9zM277,563h9v1h-9zM380,563h5v1h-5zM496,563h10v1h-10zM829,563h11v1h-11zM272,564h10v1h-10zM382,564h5v1h-5zM491,564h11v1h-11zM833,564h15v1h-15zM267,565h11v1h-11zM384,565h6v1h-6zM485,565h12v1h-12zM839,565h17v1h-17zM261,566h12v1h-12zM386,566h8v1h-8zM481,566h11v1h-11zM847,566h14v1h-14zM251,567h17v1h-17zM389,567h8v1h-8zM478,567h8v1h-8zM855,567h9v1h-9zM239,568h23v1h-23zM393,568h7v1h-7zM475,568h7v1h-7zM860,568h6v1h-6zM231,569h21v1h-21zM396,569h8v1h-8zM471,569h8v1h-8zM863,569h33v1h-33zM223,570h17v1h-17zM399,570h8v1h-8zM468,570h8v1h-8zM865,570h39v1h-39zM216,571h16v1h-16zM403,571h7v1h-7zM459,571h13v1h-13zM895,571h14v1h-14zM211,572h13v1h-13zM406,572h63v1h-63zM903,572h9v1h-9zM205,573h12v1h-12zM409,573h51v1h-51zM908,573h6v1h-6zM201,574h11v1h-11zM911,574h6v1h-6zM197,575h9v1h-9zM913,575h7v1h-7zM193,576h9v1h-9zM916,576h6v1h-6zM189,577h9v1h-9zM919,577h7v1h-7zM185,578h9v1h-9zM921,578h9v1h-9zM64,579h30v1h-30zM181,579h9v1h-9zM925,579h9v1h-9zM59,580h39v1h-39zM178,580h8v1h-8zM929,580h9v1h-9zM53,581h12v1h-12zM93,581h9v1h-9zM176,581h6v1h-6zM933,581h9v1h-9zM49,582h11v1h-11zM97,582h11v1h-11zM174,582h5v1h-5zM937,582h9v1h-9zM45,583h9v1h-9zM101,583h12v1h-12zM172,583h5v1h-5zM941,583h8v1h-8zM41,584h9v1h-9zM107,584h11v1h-11zM169,584h6v1h-6zM945,584h7v1h-7zM37,585h9v1h-9zM112,585h10v1h-10zM165,585h8v1h-8zM948,585h6v1h-6zM33,586h9v1h-9zM117,586h53v1h-53zM951,586h6v1h-6zM29,587h9v1h-9zM121,587h45v1h-45zM953,587h7v1h-7zM26,588h8v1h-8zM956,588h6v1h-6zM23,589h7v1h-7zM959,589h6v1h-6zM19,590h8v1h-8zM961,590h6v1h-6zM16,591h8v1h-8zM964,591h5v1h-5zM12,592h8v1h-8zM966,592h5v1h-5zM2,593h15v1h-15zM968,593h5v1h-5zM2,594h11v1h-11zM970,594h5v1h-5zM972,595h5v1h-5zM974,596h5v1h-5zM976,597h5v1h-5zM978,598h6v1h-6zM980,599h6v1h-6zM983,600h5v1h-5zM985,601h5v1h-5zM987,602h5v1h-5zM989,603h4v1h-4zM991,604h4v1h-4zM992,605h5v1h-5zM994,606h5v1h-5zM996,607h5v1h-5zM998,608h5v1h-5zM1202,608h2v1h-2zM1000,609h6v1h-6zM1201,609h3v1h-3zM1002,610h8v1h-8zM1199,610h4v1h-4zM1005,611h8v1h-8zM1198,611h4v1h-4zM1009,612h6v1h-6zM1197,612h3v1h-3zM1012,613h5v1h-5zM1195,613h4v1h-4zM1014,614h5v1h-5zM1194,614h4v1h-4zM1016,615h4v1h-4zM1192,615h4v1h-4zM1018,616h4v1h-4zM1191,616h4v1h-4zM1019,617h4v1h-4zM1189,617h4v1h-4zM1021,618h3v1h-3zM1187,618h5v1h-5zM1022,619h4v1h-4zM1186,619h4v1h-4zM1023,620h4v1h-4zM1184,620h4v1h-4zM1025,621h4v1h-4zM1182,621h5v1h-5zM1026,622h5v1h-5zM1180,622h5v1h-5zM1028,623h5v1h-5zM1177,623h6v1h-6zM1030,624h5v1h-5zM1175,624h6v1h-6zM1032,625h5v1h-5zM1172,625h6v1h-6zM1034,626h5v1h-5zM1167,626h9v1h-9zM1036,627h5v1h-5zM1115,627h58v1h-58zM1038,628h5v1h-5zM1109,628h59v1h-59zM1040,629h6v1h-6zM1104,629h12v1h-12zM1042,630h8v1h-8zM1099,630h11v1h-11zM1045,631h9v1h-9zM1094,631h11v1h-11zM1049,632h9v1h-9zM1090,632h10v1h-10zM1053,633h42v1h-42zM1057,634h34v1h-34z" fill="#ff0000" shape-rendering="crispEdges"/>
<g shape-rendering="crispEdges">
<line x1="3" y1="688.5" x2="1259" y2="688.5" stroke="#ff00ff" stroke-width="1" stroke-dasharray="3 3" stroke-dashoffset="5"/>
<line x1="3" y1="739.5" x2="1259" y2="739.5" stroke="#ff00ff" stroke-width="1" stroke-dasharray="3 3" stroke-dashoffset="5"/>
</g>
<path d="M298,675h2v1h-2zM296,676h2v1h-2zM300,676h2v1h-2zM293,677h3v1h-3zM302,677h1v1h-1zM290,678h3v1h-3zM303,678h1v1h-1zM286,679h4v1h-4zM304,679h2v1h-2zM283,680h3v1h-3zM306,680h1v1h-1zM282,681h1v1h-1zM307,681h1v1h-1zM281,682h1v1h-1zM307,682h1v1h-1zM280,683h1v1h-1zM308,683h1v1h-1zM278,684h2v1h-2zM308,684h1v1h-1zM277,685h1v1h-1zM308,685h1v1h-1zM276,686h1v1h-1zM308,686h1v1h-1zM274,687h2v1h-2zM309,687h1v1h-1zM563,687h1v1h-1zM272,688h2v1h-2zM309,688h1v1h-1zM562,688h1v1h-1zM564,688h2v1h-2zM269,689h3v1h-3zM309,689h1v1h-1zM560,689h2v1h-2zM566,689h1v1h-1zM267,690h2v1h-2zM310,690h1v1h-1zM499,690h1v1h-1zM559,690h1v1h-1zM567,690h1v1h-1zM265,691h2v1h-2zM310,691h1v1h-1zM498,691h2v1h-2zM558,691h1v1h-1zM568,691h2v1h-2zM263,692h2v1h-2zM310,692h1v1h-1zM497,692h1v1h-1zM500,692h1v1h-1zM556,692h2v1h-2zM570,692h1v1h-1zM261,693h2v1h-2zM311,693h1v1h-1zM496,693h1v1h-1zM500,693h1v1h-1zM544,693h12v1h-12zM571,693h1v1h-1zM739,693h1v1h-1zM256,694h5v1h-5zM311,694h1v1h-1zM495,694h1v1h-1zM501,694h1v1h-1zM539,694h5v1h-5zM572,694h1v1h-1zM738,694h1v1h-1zM740,694h2v1h-2zM251,695h5v1h-5zM311,695h1v1h-1zM495,695h1v1h-1zM501,695h1v1h-1zM538,695h1v1h-1zM573,695h1v1h-1zM737,695h1v1h-1zM742,695h2v1h-2zM171,696h2v1h-2zM249,696h2v1h-2zM311,696h1v1h-1zM494,696h1v1h-1zM502,696h1v1h-1zM537,696h1v1h-1zM574,696h2v1h-2zM736,696h1v1h-1zM744,696h1v1h-1zM10,697h2v1h-2zM170,697h1v1h-1zM173,697h2v1h-2zM247,697h2v1h-2zM312,697h1v1h-1zM493,697h1v1h-1zM502,697h1v1h-1zM523,697h2v1h-2zM536,697h1v1h-1zM576,697h1v1h-1zM723,697h2v1h-2zM734,697h2v1h-2zM745,697h2v1h-2zM8,698h2v1h-2zM11,698h1v1h-1zM168,698h2v1h-2zM175,698h2v1h-2zM245,698h2v1h-2zM312,698h1v1h-1zM427,698h3v1h-3zM492,698h1v1h-1zM503,698h1v1h-1zM522,698h1v1h-1zM525,698h2v1h-2zM534,698h2v1h-2zM577,698h1v1h-1zM643,698h3v1h-3zM722,698h1v1h-1zM725,698h3v1h-3zM733,698h1v1h-1zM747,698h1v1h-1zM5,699h3v1h-3zM12,699h1v1h-1zM131,699h2v1h-2zM167,699h1v1h-1zM177,699h2v1h-2zM235,699h10v1h-10zM312,699h1v1h-1zM425,699h2v1h-2zM430,699h4v1h-4zM490,699h2v1h-2zM503,699h1v1h-1zM521,699h1v1h-1zM527,699h2v1h-2zM533,699h1v1h-1zM578,699h1v1h-1zM642,699h1v1h-1zM646,699h4v1h-4zM721,699h1v1h-1zM728,699h2v1h-2zM732,699h1v1h-1zM748,699h1v1h-1zM1195,699h5v1h-5zM3,700h2v1h-2zM12,700h1v1h-1zM130,700h1v1h-1zM133,700h3v1h-3zM166,700h1v1h-1zM179,700h1v1h-1zM233,700h2v1h-2zM313,700h1v1h-1zM424,700h1v1h-1zM434,700h2v1h-2zM488,700h2v1h-2zM503,700h1v1h-1zM520,700h1v1h-1zM529,700h2v1h-2zM532,700h1v1h-1zM579,700h1v1h-1zM641,700h1v1h-1zM650,700h2v1h-2zM720,700h1v1h-1zM730,700h2v1h-2zM748,700h1v1h-1zM1193,700h2v1h-2zM1200,700h4v1h-4zM13,701h1v1h-1zM129,701h1v1h-1zM136,701h2v1h-2zM164,701h2v1h-2zM180,701h1v1h-1zM231,701h2v1h-2zM313,701h1v1h-1zM422,701h2v1h-2zM436,701h1v1h-1zM459,701h3v1h-3zM485,701h3v1h-3zM504,701h1v1h-1zM519,701h1v1h-1zM531,701h1v1h-1zM580,701h1v1h-1zM640,701h1v1h-1zM652,701h1v1h-1zM718,701h2v1h-2zM749,701h1v1h-1zM1191,701h2v1h-2zM13,702h1v1h-1zM27,702h5v1h-5zM128,702h1v1h-1zM138,702h2v1h-2zM163,702h1v1h-1zM180,702h1v1h-1zM202,702h11v1h-11zM229,702h2v1h-2zM313,702h1v1h-1zM420,702h2v1h-2zM436,702h1v1h-1zM457,702h2v1h-2zM462,702h4v1h-4zM480,702h5v1h-5zM504,702h1v1h-1zM519,702h1v1h-1zM581,702h1v1h-1zM626,702h2v1h-2zM639,702h1v1h-1zM653,702h1v1h-1zM717,702h1v1h-1zM749,702h1v1h-1zM1189,702h2v1h-2zM14,703h1v1h-1zM26,703h1v1h-1zM32,703h6v1h-6zM126,703h2v1h-2zM140,703h1v1h-1zM161,703h2v1h-2zM181,703h1v1h-1zM198,703h4v1h-4zM213,703h3v1h-3zM226,703h3v1h-3zM314,703h1v1h-1zM419,703h1v1h-1zM437,703h1v1h-1zM456,703h1v1h-1zM466,703h14v1h-14zM505,703h1v1h-1zM518,703h1v1h-1zM582,703h1v1h-1zM624,703h2v1h-2zM628,703h2v1h-2zM639,703h1v1h-1zM654,703h1v1h-1zM716,703h1v1h-1zM750,703h1v1h-1zM1179,703h10v1h-10zM14,704h1v1h-1zM26,704h1v1h-1zM38,704h4v1h-4zM125,704h1v1h-1zM141,704h1v1h-1zM159,704h2v1h-2zM182,704h1v1h-1zM195,704h3v1h-3zM216,704h2v1h-2zM222,704h4v1h-4zM314,704h1v1h-1zM418,704h1v1h-1zM437,704h1v1h-1zM454,704h2v1h-2zM505,704h1v1h-1zM517,704h1v1h-1zM583,704h1v1h-1zM621,704h3v1h-3zM630,704h2v1h-2zM638,704h1v1h-1zM655,704h1v1h-1zM712,704h4v1h-4zM751,704h1v1h-1zM1177,704h2v1h-2zM15,705h1v1h-1zM25,705h1v1h-1zM42,705h2v1h-2zM124,705h1v1h-1zM142,705h1v1h-1zM157,705h2v1h-2zM182,705h1v1h-1zM194,705h1v1h-1zM218,705h4v1h-4zM314,705h1v1h-1zM418,705h1v1h-1zM438,705h1v1h-1zM452,705h2v1h-2zM506,705h1v1h-1zM516,705h1v1h-1zM583,705h1v1h-1zM618,705h3v1h-3zM632,705h1v1h-1zM637,705h1v1h-1zM656,705h1v1h-1zM706,705h6v1h-6zM751,705h1v1h-1zM843,705h2v1h-2zM1175,705h2v1h-2zM15,706h1v1h-1zM24,706h1v1h-1zM44,706h2v1h-2zM123,706h1v1h-1zM143,706h1v1h-1zM155,706h2v1h-2zM183,706h1v1h-1zM193,706h1v1h-1zM314,706h1v1h-1zM417,706h1v1h-1zM438,706h1v1h-1zM451,706h1v1h-1zM506,706h1v1h-1zM514,706h2v1h-2zM584,706h1v1h-1zM614,706h4v1h-4zM633,706h2v1h-2zM636,706h1v1h-1zM657,706h1v1h-1zM683,706h1v1h-1zM704,706h2v1h-2zM752,706h1v1h-1zM842,706h1v1h-1zM845,706h2v1h-2zM1173,706h2v1h-2zM16,707h1v1h-1zM23,707h1v1h-1zM46,707h2v1h-2zM122,707h1v1h-1zM144,707h1v1h-1zM153,707h2v1h-2zM184,707h1v1h-1zM192,707h1v1h-1zM315,707h1v1h-1zM387,707h2v1h-2zM416,707h1v1h-1zM439,707h1v1h-1zM450,707h1v1h-1zM507,707h1v1h-1zM510,707h4v1h-4zM585,707h1v1h-1zM611,707h3v1h-3zM635,707h1v1h-1zM658,707h1v1h-1zM664,707h4v1h-4zM682,707h1v1h-1zM684,707h1v1h-1zM701,707h3v1h-3zM753,707h1v1h-1zM795,707h1v1h-1zM841,707h1v1h-1zM847,707h2v1h-2zM1171,707h2v1h-2zM16,708h1v1h-1zM23,708h1v1h-1zM48,708h1v1h-1zM58,708h2v1h-2zM121,708h1v1h-1zM145,708h1v1h-1zM151,708h2v1h-2zM184,708h1v1h-1zM191,708h1v1h-1zM315,708h1v1h-1zM385,708h2v1h-2zM389,708h2v1h-2zM415,708h1v1h-1zM439,708h1v1h-1zM449,708h1v1h-1zM507,708h3v1h-3zM586,708h1v1h-1zM610,708h1v1h-1zM659,708h5v1h-5zM668,708h2v1h-2zM680,708h2v1h-2zM685,708h1v1h-1zM699,708h2v1h-2zM753,708h1v1h-1zM794,708h1v1h-1zM796,708h1v1h-1zM824,708h5v1h-5zM840,708h1v1h-1zM849,708h2v1h-2zM1170,708h1v1h-1zM17,709h1v1h-1zM22,709h1v1h-1zM49,709h2v1h-2zM54,709h4v1h-4zM60,709h2v1h-2zM121,709h1v1h-1zM146,709h1v1h-1zM149,709h2v1h-2zM185,709h1v1h-1zM190,709h1v1h-1zM316,709h1v1h-1zM383,709h2v1h-2zM391,709h2v1h-2zM415,709h1v1h-1zM440,709h1v1h-1zM448,709h1v1h-1zM587,709h1v1h-1zM609,709h1v1h-1zM670,709h2v1h-2zM679,709h1v1h-1zM686,709h1v1h-1zM698,709h1v1h-1zM754,709h1v1h-1zM771,709h5v1h-5zM792,709h2v1h-2zM796,709h1v1h-1zM819,709h5v1h-5zM829,709h2v1h-2zM838,709h2v1h-2zM851,709h1v1h-1zM875,709h1v1h-1zM1170,709h1v1h-1zM17,710h1v1h-1zM21,710h1v1h-1zM51,710h3v1h-3zM62,710h2v1h-2zM120,710h1v1h-1zM147,710h2v1h-2zM186,710h1v1h-1zM189,710h1v1h-1zM317,710h1v1h-1zM339,710h2v1h-2zM381,710h2v1h-2zM393,710h2v1h-2zM414,710h1v1h-1zM440,710h1v1h-1zM447,710h1v1h-1zM588,710h1v1h-1zM608,710h1v1h-1zM672,710h1v1h-1zM678,710h1v1h-1zM687,710h1v1h-1zM696,710h2v1h-2zM754,710h1v1h-1zM770,710h1v1h-1zM776,710h5v1h-5zM791,710h1v1h-1zM797,710h1v1h-1zM818,710h1v1h-1zM831,710h2v1h-2zM837,710h1v1h-1zM852,710h2v1h-2zM874,710h1v1h-1zM876,710h2v1h-2zM891,710h1v1h-1zM1169,710h1v1h-1zM18,711h1v1h-1zM20,711h1v1h-1zM64,711h1v1h-1zM119,711h1v1h-1zM186,711h1v1h-1zM188,711h1v1h-1zM318,711h1v1h-1zM338,711h1v1h-1zM341,711h3v1h-3zM378,711h3v1h-3zM395,711h1v1h-1zM413,711h1v1h-1zM441,711h1v1h-1zM447,711h1v1h-1zM589,711h1v1h-1zM606,711h2v1h-2zM673,711h2v1h-2zM676,711h2v1h-2zM688,711h1v1h-1zM695,711h1v1h-1zM755,711h1v1h-1zM769,711h1v1h-1zM781,711h3v1h-3zM790,711h1v1h-1zM798,711h1v1h-1zM817,711h1v1h-1zM833,711h2v1h-2zM836,711h1v1h-1zM854,711h1v1h-1zM873,711h1v1h-1zM878,711h2v1h-2zM889,711h2v1h-2zM892,711h2v1h-2zM1168,711h1v1h-1zM18,712h1v1h-1zM20,712h1v1h-1zM65,712h2v1h-2zM118,712h1v1h-1zM187,712h1v1h-1zM319,712h1v1h-1zM337,712h1v1h-1zM344,712h2v1h-2zM374,712h4v1h-4zM396,712h2v1h-2zM412,712h1v1h-1zM441,712h1v1h-1zM446,712h1v1h-1zM590,712h1v1h-1zM605,712h1v1h-1zM675,712h1v1h-1zM689,712h1v1h-1zM694,712h1v1h-1zM756,712h2v1h-2zM768,712h1v1h-1zM784,712h2v1h-2zM788,712h2v1h-2zM799,712h1v1h-1zM816,712h1v1h-1zM835,712h1v1h-1zM855,712h1v1h-1zM872,712h1v1h-1zM880,712h1v1h-1zM887,712h2v1h-2zM894,712h2v1h-2zM1167,712h1v1h-1zM19,713h1v1h-1zM67,713h1v1h-1zM117,713h1v1h-1zM320,713h1v1h-1zM336,713h1v1h-1zM346,713h2v1h-2zM363,713h11v1h-11zM398,713h2v1h-2zM412,713h1v1h-1zM442,713h1v1h-1zM445,713h1v1h-1zM591,713h1v1h-1zM604,713h1v1h-1zM690,713h1v1h-1zM692,713h2v1h-2zM758,713h2v1h-2zM766,713h2v1h-2zM786,713h2v1h-2zM799,713h1v1h-1zM814,713h2v1h-2zM856,713h2v1h-2zM871,713h1v1h-1zM881,713h2v1h-2zM885,713h2v1h-2zM896,713h1v1h-1zM1167,713h1v1h-1zM68,714h1v1h-1zM117,714h1v1h-1zM321,714h1v1h-1zM335,714h1v1h-1zM348,714h1v1h-1zM362,714h1v1h-1zM400,714h1v1h-1zM410,714h2v1h-2zM442,714h1v1h-1zM444,714h1v1h-1zM592,714h1v1h-1zM602,714h2v1h-2zM691,714h1v1h-1zM760,714h1v1h-1zM765,714h1v1h-1zM800,714h1v1h-1zM813,714h1v1h-1zM858,714h1v1h-1zM870,714h1v1h-1zM883,714h2v1h-2zM897,714h2v1h-2zM1166,714h1v1h-1zM69,715h1v1h-1zM116,715h1v1h-1zM322,715h1v1h-1zM334,715h1v1h-1zM349,715h1v1h-1zM361,715h1v1h-1zM401,715h2v1h-2zM406,715h4v1h-4zM443,715h1v1h-1zM593,715h1v1h-1zM600,715h2v1h-2zM761,715h2v1h-2zM764,715h1v1h-1zM801,715h1v1h-1zM812,715h1v1h-1zM859,715h3v1h-3zM869,715h1v1h-1zM899,715h5v1h-5zM1165,715h1v1h-1zM70,716h1v1h-1zM115,716h1v1h-1zM323,716h3v1h-3zM333,716h1v1h-1zM350,716h1v1h-1zM360,716h1v1h-1zM403,716h3v1h-3zM594,716h1v1h-1zM597,716h3v1h-3zM763,716h1v1h-1zM802,716h1v1h-1zM810,716h2v1h-2zM862,716h4v1h-4zM868,716h1v1h-1zM904,716h4v1h-4zM947,716h1v1h-1zM1154,716h4v1h-4zM1164,716h1v1h-1zM71,717h1v1h-1zM115,717h1v1h-1zM326,717h4v1h-4zM332,717h1v1h-1zM351,717h1v1h-1zM359,717h1v1h-1zM595,717h2v1h-2zM802,717h1v1h-1zM806,717h4v1h-4zM866,717h2v1h-2zM908,717h1v1h-1zM945,717h2v1h-2zM948,717h1v1h-1zM1152,717h2v1h-2zM1158,717h4v1h-4zM1164,717h1v1h-1zM71,718h1v1h-1zM114,718h1v1h-1zM330,718h2v1h-2zM352,718h1v1h-1zM358,718h1v1h-1zM803,718h3v1h-3zM909,718h1v1h-1zM923,718h1v1h-1zM943,718h2v1h-2zM949,718h1v1h-1zM1149,718h3v1h-3zM1162,718h2v1h-2zM72,719h1v1h-1zM114,719h1v1h-1zM353,719h1v1h-1zM357,719h1v1h-1zM910,719h2v1h-2zM921,719h2v1h-2zM924,719h2v1h-2zM941,719h2v1h-2zM950,719h1v1h-1zM1051,719h2v1h-2zM1147,719h2v1h-2zM73,720h1v1h-1zM113,720h1v1h-1zM354,720h1v1h-1zM356,720h1v1h-1zM912,720h1v1h-1zM920,720h1v1h-1zM926,720h2v1h-2zM938,720h3v1h-3zM951,720h1v1h-1zM1050,720h1v1h-1zM1053,720h3v1h-3zM1083,720h1v1h-1zM1146,720h1v1h-1zM74,721h1v1h-1zM113,721h1v1h-1zM355,721h1v1h-1zM913,721h1v1h-1zM918,721h2v1h-2zM928,721h1v1h-1zM936,721h2v1h-2zM952,721h1v1h-1zM1050,721h1v1h-1zM1056,721h2v1h-2zM1064,721h5v1h-5zM1081,721h2v1h-2zM1084,721h2v1h-2zM1145,721h1v1h-1zM75,722h5v1h-5zM112,722h1v1h-1zM914,722h1v1h-1zM916,722h2v1h-2zM929,722h2v1h-2zM933,722h3v1h-3zM953,722h1v1h-1zM962,722h2v1h-2zM1049,722h1v1h-1zM1058,722h6v1h-6zM1069,722h3v1h-3zM1079,722h2v1h-2zM1086,722h1v1h-1zM1144,722h1v1h-1zM80,723h8v1h-8zM112,723h1v1h-1zM915,723h1v1h-1zM931,723h2v1h-2zM954,723h1v1h-1zM958,723h4v1h-4zM964,723h2v1h-2zM1048,723h1v1h-1zM1072,723h2v1h-2zM1077,723h2v1h-2zM1087,723h1v1h-1zM1142,723h2v1h-2zM88,724h4v1h-4zM112,724h1v1h-1zM955,724h3v1h-3zM966,724h1v1h-1zM1048,724h1v1h-1zM1074,724h3v1h-3zM1088,724h2v1h-2zM1141,724h1v1h-1zM92,725h1v1h-1zM111,725h1v1h-1zM967,725h1v1h-1zM1047,725h1v1h-1zM1090,725h1v1h-1zM1140,725h1v1h-1zM93,726h1v1h-1zM111,726h1v1h-1zM968,726h2v1h-2zM1046,726h1v1h-1zM1091,726h13v1h-13zM1139,726h1v1h-1zM94,727h1v1h-1zM110,727h1v1h-1zM970,727h1v1h-1zM995,727h1v1h-1zM1046,727h1v1h-1zM1104,727h4v1h-4zM1138,727h1v1h-1zM95,728h1v1h-1zM110,728h1v1h-1zM971,728h10v1h-10zM993,728h2v1h-2zM996,728h2v1h-2zM1035,728h2v1h-2zM1045,728h1v1h-1zM1108,728h1v1h-1zM1137,728h1v1h-1zM96,729h1v1h-1zM110,729h1v1h-1zM981,729h3v1h-3zM991,729h2v1h-2zM998,729h1v1h-1zM1034,729h1v1h-1zM1037,729h3v1h-3zM1044,729h1v1h-1zM1109,729h1v1h-1zM1137,729h1v1h-1zM97,730h1v1h-1zM109,730h1v1h-1zM984,730h2v1h-2zM989,730h2v1h-2zM999,730h1v1h-1zM1034,730h1v1h-1zM1040,730h2v1h-2zM1044,730h1v1h-1zM1110,730h2v1h-2zM1136,730h1v1h-1zM98,731h1v1h-1zM109,731h1v1h-1zM986,731h3v1h-3zM1000,731h2v1h-2zM1033,731h1v1h-1zM1042,731h2v1h-2zM1112,731h1v1h-1zM1135,731h1v1h-1zM99,732h2v1h-2zM108,732h1v1h-1zM1002,732h1v1h-1zM1033,732h1v1h-1zM1113,732h1v1h-1zM1134,732h1v1h-1zM101,733h3v1h-3zM108,733h1v1h-1zM1003,733h10v1h-10zM1032,733h1v1h-1zM1114,733h1v1h-1zM1120,733h5v1h-5zM1133,733h1v1h-1zM104,734h2v1h-2zM107,734h1v1h-1zM1013,734h2v1h-2zM1031,734h1v1h-1zM1115,734h5v1h-5zM1125,734h3v1h-3zM1133,734h1v1h-1zM106,735h2v1h-2zM1015,735h2v1h-2zM1031,735h1v1h-1zM1128,735h2v1h-2zM1132,735h1v1h-1zM1017,736h2v1h-2zM1030,736h1v1h-1zM1130,736h2v1h-2zM1019,737h2v1h-2zM1029,737h1v1h-1zM1021,738h2v1h-2zM1029,738h1v1h-1zM1023,739h2v1h-2zM1028,739h1v1h-1zM1025,740h2v1h-2zM1028,740h1v1h-1zM1027,741h1v1h-1z" fill="#0000ff" shape-rendering="crispEdges"/>
<g shape-rendering="crispEdges" fill="none" stroke="#000" stroke-width="1">
<rect x="2.5" y="2.5" width="1257" height="515"/>
<rect x="2.5" y="519.5" width="1257" height="128"/>
<rect x="2.5" y="649.5" width="1257" height="128"/>
</g>
<g shape-rendering="crispEdges">
<rect x="1260" y="19" width="2" height="1" fill="#000"/>
<rect x="1260" y="52" width="2" height="1" fill="#000"/>
<rect x="1260" y="85" width="2" height="1" fill="#000"/>
<rect x="1260" y="118" width="2" height="1" fill="#000"/>
<rect x="1260" y="151" width="2" height="1" fill="#000"/>
<rect x="1260" y="184" width="2" height="1" fill="#000"/>
<rect x="1260" y="217" width="2" height="1" fill="#000"/>
<rect x="1260" y="250" width="2" height="1" fill="#000"/>
<rect x="1260" y="283" width="2" height="1" fill="#000"/>
<rect x="1260" y="316" width="2" height="1" fill="#000"/>
<rect x="1260" y="349" width="2" height="1" fill="#000"/>
<rect x="1260" y="382" width="2" height="1" fill="#000"/>
<rect x="1260" y="415" width="2" height="1" fill="#000"/>
<rect x="1260" y="448" width="2" height="1" fill="#000"/>
<rect x="1260" y="481" width="2" height="1" fill="#000"/>
<rect x="1260" y="514" width="2" height="1" fill="#000"/>
<rect x="1260" y="584" width="2" height="1" fill="#000"/>
<rect x="3" y="778" width="1" height="3" fill="#000"/>
<rect x="67" y="778" width="1" height="3" fill="#000"/>
<rect x="131" y="778" width="1" height="3" fill="#000"/>
<rect x="195" y="778" width="1" height="3" fill="#000"/>
<rect x="259" y="778" width="1" height="3" fill="#000"/>
<rect x="323" y="778" width="1" height="3" fill="#000"/>
<rect x="387" y="778" width="1" height="3" fill="#000"/>
<rect x="451" y="778" width="1" height="3" fill="#000"/>
<rect x="515" y="778" width="1" height="3" fill="#000"/>
<rect x="579" y="778" width="1" height="3" fill="#000"/>
<rect x="643" y="778" width="1" height="3" fill="#000"/>
<rect x="707" y="778" width="1" height="3" fill="#000"/>
<rect x="771" y="778" width="1" height="3" fill="#000"/>
<rect x="835" y="778" width="1" height="3" fill="#000"/>
<rect x="899" y="778" width="1" height="3" fill="#000"/>
<rect x="963" y="778" width="1" height="3" fill="#000"/>
<rect x="1027" y="778" width="1" height="3" fill="#000"/>
<rect x="1091" y="778" width="1" height="3" fill="#000"/>
<rect x="1155" y="778" width="1" height="3" fill="#000"/>
<rect x="1261" y="226" width="36" height="11" fill="#000"/>
</g>
<path d="M5.5,9 L14,9 L9.75,13.5 Z" fill="#000"/>
<text x="19" y="13.6" font-size="9px" fill="#000" text-anchor="start" textLength="82" lengthAdjust="spacingAndGlyphs">#C-ORANGE,Daily</text>
<text x="107.6" y="13.6" font-size="9px" fill="#000" text-anchor="start" textLength="119.8" lengthAdjust="spacingAndGlyphs">128.75 131.96 128.75 131.19</text>
<text x="7.6" y="531.6" font-size="9px" fill="#000" text-anchor="start" textLength="120" lengthAdjust="spacingAndGlyphs">MACD(12,26,9) 0.325 -1.828</text>
<text x="7.6" y="661.7" font-size="9px" fill="#000" text-anchor="start" textLength="67.3" lengthAdjust="spacingAndGlyphs">RSI(13) 60.3206</text>
<text x="1265.5" y="22.1" font-size="9px" fill="#000" text-anchor="start" textLength="27" lengthAdjust="spacingAndGlyphs">149.45</text>
<text x="1265.5" y="55.1" font-size="9px" fill="#000" text-anchor="start" textLength="27" lengthAdjust="spacingAndGlyphs">146.60</text>
<text x="1265.5" y="88.1" font-size="9px" fill="#000" text-anchor="start" textLength="27" lengthAdjust="spacingAndGlyphs">143.75</text>
<text x="1265.5" y="121.1" font-size="9px" fill="#000" text-anchor="start" textLength="27" lengthAdjust="spacingAndGlyphs">140.90</text>
<text x="1265.5" y="154.1" font-size="9px" fill="#000" text-anchor="start" textLength="27" lengthAdjust="spacingAndGlyphs">138.05</text>
<text x="1265.5" y="187.1" font-size="9px" fill="#000" text-anchor="start" textLength="27" lengthAdjust="spacingAndGlyphs">135.25</text>
<text x="1265.5" y="220.1" font-size="9px" fill="#000" text-anchor="start" textLength="27" lengthAdjust="spacingAndGlyphs">132.40</text>
<text x="1265.5" y="253.1" font-size="9px" fill="#000" text-anchor="start" textLength="27" lengthAdjust="spacingAndGlyphs">129.55</text>
<text x="1265.5" y="286.1" font-size="9px" fill="#000" text-anchor="start" textLength="27" lengthAdjust="spacingAndGlyphs">126.70</text>
<text x="1265.5" y="319.1" font-size="9px" fill="#000" text-anchor="start" textLength="27" lengthAdjust="spacingAndGlyphs">123.85</text>
<text x="1265.5" y="352.1" font-size="9px" fill="#000" text-anchor="start" textLength="27" lengthAdjust="spacingAndGlyphs">121.00</text>
<text x="1265.5" y="385.1" font-size="9px" fill="#000" text-anchor="start" textLength="27" lengthAdjust="spacingAndGlyphs">118.15</text>
<text x="1265.5" y="418.1" font-size="9px" fill="#000" text-anchor="start" textLength="27" lengthAdjust="spacingAndGlyphs">115.35</text>
<text x="1265.5" y="451.1" font-size="9px" fill="#000" text-anchor="start" textLength="27" lengthAdjust="spacingAndGlyphs">112.50</text>
<text x="1265.5" y="484.1" font-size="9px" fill="#000" text-anchor="start" textLength="27" lengthAdjust="spacingAndGlyphs">109.65</text>
<text x="1265.5" y="517.1" font-size="9px" fill="#000" text-anchor="start" textLength="27" lengthAdjust="spacingAndGlyphs">106.80</text>
<text x="1265.5" y="234.1" font-size="9px" fill="#fff" text-anchor="start" textLength="27" lengthAdjust="spacingAndGlyphs">131.19</text>
<text x="1263.3" y="530" font-size="9px" fill="#000" text-anchor="start" textLength="22.4" lengthAdjust="spacingAndGlyphs">4.884</text>
<text x="1263.3" y="587.7" font-size="9px" fill="#000" text-anchor="start" textLength="17.5" lengthAdjust="spacingAndGlyphs">0.00</text>
<text x="1263.3" y="644" font-size="9px" fill="#000" text-anchor="start">-4.739</text>
<text x="1262.6" y="660" font-size="9px" fill="#000" text-anchor="start">100</text>
<text x="1262.6" y="691.5" font-size="9px" fill="#000" text-anchor="start">70</text>
<text x="1262.6" y="742.5" font-size="9px" fill="#000" text-anchor="start">30</text>
<text x="1262.6" y="774" font-size="9px" fill="#000" text-anchor="start">0</text>
<text x="1257.5" y="26" font-size="9px" fill="#ff0000" text-anchor="end">0.0</text>
<text x="1257.5" y="138" font-size="9px" fill="#ff0000" text-anchor="end">23.6</text>
<text x="1257.5" y="208" font-size="9px" fill="#ff0000" text-anchor="end">38.2</text>
<text x="1257.5" y="320" font-size="9px" fill="#ff0000" text-anchor="end">61.8</text>
<text x="1257.5" y="502" font-size="9px" fill="#ff0000" text-anchor="end">100.0</text>
<text x="3" y="790" font-size="9.15px" fill="#000" text-anchor="start">16 Apr 2021</text>
<text x="67" y="790" font-size="9.15px" fill="#000" text-anchor="start">28 Apr 2021</text>
<text x="131" y="790" font-size="9.15px" fill="#000" text-anchor="start">10 May 2021</text>
<text x="195" y="790" font-size="9.15px" fill="#000" text-anchor="start">20 May 2021</text>
<text x="259" y="790" font-size="9.15px" fill="#000" text-anchor="start">2 Jun 2021</text>
<text x="323" y="790" font-size="9.15px" fill="#000" text-anchor="start">14 Jun 2021</text>
<text x="387" y="790" font-size="9.15px" fill="#000" text-anchor="start">24 Jun 2021</text>
<text x="451" y="790" font-size="9.15px" fill="#000" text-anchor="start">7 Jul 2021</text>
<text x="515" y="790" font-size="9.15px" fill="#000" text-anchor="start">19 Jul 2021</text>
<text x="579" y="790" font-size="9.15px" fill="#000" text-anchor="start">29 Jul 2021</text>
<text x="643" y="790" font-size="9.15px" fill="#000" text-anchor="start">10 Aug 2021</text>
<text x="707" y="790" font-size="9.15px" fill="#000" text-anchor="start">20 Aug 2021</text>
<text x="771" y="790" font-size="9.15px" fill="#000" text-anchor="start">1 Sep 2021</text>
<text x="835" y="790" font-size="9.15px" fill="#000" text-anchor="start">14 Sep 2021</text>
<text x="899" y="790" font-size="9.15px" fill="#000" text-anchor="start">24 Sep 2021</text>
<text x="963" y="790" font-size="9.15px" fill="#000" text-anchor="start">6 Oct 2021</text>
<text x="1027" y="790" font-size="9.15px" fill="#000" text-anchor="start">18 Oct 2021</text>
<text x="1091" y="790" font-size="9.15px" fill="#000" text-anchor="start">28 Oct 2021</text>
<text x="1155" y="790" font-size="9.15px" fill="#000" text-anchor="start">9 Nov 2021</text>
<text x="129.3" y="358.8" font-size="13.33px" fill="#000" text-anchor="start" textLength="51.6" lengthAdjust="spacingAndGlyphs">Fractalsl</text>
<text x="203.9" y="485.8" font-size="13.33px" fill="#000" text-anchor="start" textLength="127" lengthAdjust="spacingAndGlyphs">Donchian Channel(10)</text>
<text x="700.4" y="249.6" font-size="13.33px" fill="#000" text-anchor="start" textLength="141.2" lengthAdjust="spacingAndGlyphs">Parabolic SAR(0.02,0.2)</text>
<text x="822.3" y="363.6" font-size="19px" fill="#00ffff" text-anchor="start" textLength="74.4" lengthAdjust="spacingAndGlyphs">MA(200)</text>
</svg>
</body></html>
